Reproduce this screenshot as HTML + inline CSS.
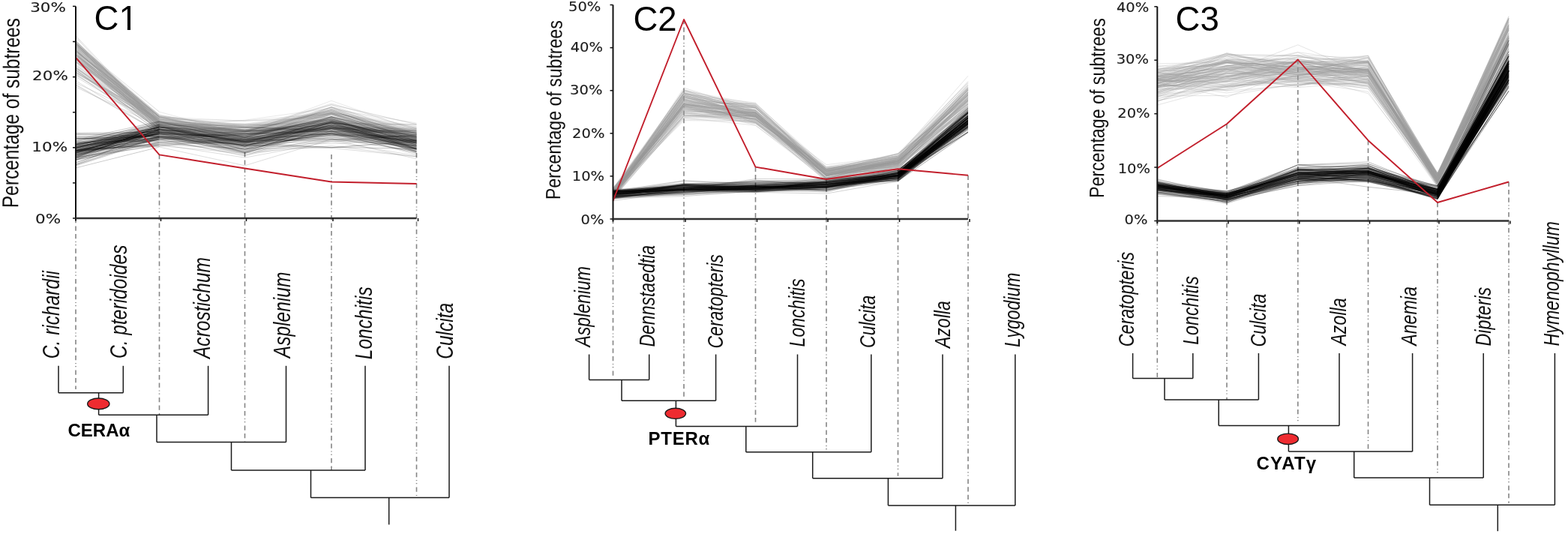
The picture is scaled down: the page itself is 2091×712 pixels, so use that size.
<!DOCTYPE html><html><head><meta charset="utf-8"><style>html,body{margin:0;padding:0;background:#fff;overflow:hidden;}svg{display:block;}</style></head><body><svg width="2091" height="712" viewBox="0 0 2091 712" font-family="Liberation Sans, Arial, sans-serif"><rect width="2091" height="712" fill="#fff"/><line x1="101" y1="291" x2="101" y2="519" stroke="#858585" stroke-width="1.6" stroke-dasharray="6.3 4.2 6.3 4.2 6.3 3.6 1.2 3 1.2 4.2"/><line x1="212.5" y1="206" x2="212.5" y2="553" stroke="#858585" stroke-width="1.6" stroke-dasharray="6.3 4.2 6.3 4.2 6.3 3.6 1.2 3 1.2 4.2"/><line x1="326.5" y1="203" x2="326.5" y2="589.5" stroke="#858585" stroke-width="1.6" stroke-dasharray="6.3 4.2 6.3 4.2 6.3 3.6 1.2 3 1.2 4.2"/><line x1="442" y1="206" x2="442" y2="627" stroke="#858585" stroke-width="1.6" stroke-dasharray="6.3 4.2 6.3 4.2 6.3 3.6 1.2 3 1.2 4.2"/><line x1="555.5" y1="204" x2="555.5" y2="661" stroke="#858585" stroke-width="1.6" stroke-dasharray="6.3 4.2 6.3 4.2 6.3 3.6 1.2 3 1.2 4.2"/><g fill="none" stroke="#999" stroke-width="0.8" stroke-opacity="0.27" stroke-linejoin="round"><polyline points="101.0,62.8 212.5,161.6" stroke-opacity="0.42"/><polyline points="212.5,161.6 326.5,175.7 442.0,143.4 555.5,184.3"/><polyline points="101.0,75.9 212.5,168.1" stroke-opacity="0.42"/><polyline points="212.5,168.1 326.5,189.7 442.0,180.2 555.5,182.5"/><polyline points="101.0,79.9 212.5,155.7" stroke-opacity="0.42"/><polyline points="212.5,155.7 326.5,180.6 442.0,152.8 555.5,183.1"/><polyline points="101.0,55.7 212.5,158.9" stroke-opacity="0.42"/><polyline points="212.5,158.9 326.5,170.4 442.0,159.0 555.5,180.9"/><polyline points="101.0,70.8 212.5,175.7" stroke-opacity="0.42"/><polyline points="212.5,175.7 326.5,183.3 442.0,169.3 555.5,190.5"/><polyline points="101.0,58.9 212.5,163.6" stroke-opacity="0.42"/><polyline points="212.5,163.6 326.5,180.8 442.0,160.0 555.5,187.0"/><polyline points="101.0,60.4 212.5,155.9" stroke-opacity="0.42"/><polyline points="212.5,155.9 326.5,161.3 442.0,156.0 555.5,175.0"/><polyline points="101.0,82.8 212.5,162.8" stroke-opacity="0.42"/><polyline points="212.5,162.8 326.5,178.4 442.0,166.1 555.5,190.6"/><polyline points="101.0,73.0 212.5,177.1" stroke-opacity="0.42"/><polyline points="212.5,177.1 326.5,186.8 442.0,159.6 555.5,185.8"/><polyline points="101.0,78.5 212.5,172.1" stroke-opacity="0.42"/><polyline points="212.5,172.1 326.5,177.3 442.0,161.9 555.5,180.7"/><polyline points="101.0,56.2 212.5,162.5" stroke-opacity="0.42"/><polyline points="212.5,162.5 326.5,175.3 442.0,139.9 555.5,181.0"/><polyline points="101.0,66.1 212.5,163.9" stroke-opacity="0.42"/><polyline points="212.5,163.9 326.5,172.0 442.0,147.5 555.5,184.4"/><polyline points="101.0,62.1 212.5,164.4" stroke-opacity="0.42"/><polyline points="212.5,164.4 326.5,175.5 442.0,160.0 555.5,176.0"/><polyline points="101.0,64.1 212.5,162.8" stroke-opacity="0.42"/><polyline points="212.5,162.8 326.5,168.4 442.0,171.6 555.5,187.1"/><polyline points="101.0,57.2 212.5,164.4" stroke-opacity="0.42"/><polyline points="212.5,164.4 326.5,177.7 442.0,170.4 555.5,175.2"/><polyline points="101.0,76.5 212.5,157.5" stroke-opacity="0.42"/><polyline points="212.5,157.5 326.5,180.7 442.0,151.4 555.5,185.0"/><polyline points="101.0,78.3 212.5,164.0" stroke-opacity="0.42"/><polyline points="212.5,164.0 326.5,174.8 442.0,164.6 555.5,184.6"/><polyline points="101.0,68.5 212.5,172.3" stroke-opacity="0.42"/><polyline points="212.5,172.3 326.5,185.0 442.0,166.4 555.5,194.6"/><polyline points="101.0,60.5 212.5,162.5" stroke-opacity="0.42"/><polyline points="212.5,162.5 326.5,174.5 442.0,155.2 555.5,177.9"/><polyline points="101.0,71.5 212.5,170.3" stroke-opacity="0.42"/><polyline points="212.5,170.3 326.5,166.4 442.0,168.3 555.5,186.3"/><polyline points="101.0,74.8 212.5,162.8" stroke-opacity="0.42"/><polyline points="212.5,162.8 326.5,183.1 442.0,157.8 555.5,178.1"/><polyline points="101.0,68.4 212.5,160.4" stroke-opacity="0.42"/><polyline points="212.5,160.4 326.5,178.9 442.0,145.1 555.5,189.4"/><polyline points="101.0,66.4 212.5,164.9" stroke-opacity="0.42"/><polyline points="212.5,164.9 326.5,173.1 442.0,177.8 555.5,190.2"/><polyline points="101.0,74.7 212.5,163.0" stroke-opacity="0.42"/><polyline points="212.5,163.0 326.5,188.3 442.0,159.6 555.5,190.4"/><polyline points="101.0,77.2 212.5,165.0" stroke-opacity="0.42"/><polyline points="212.5,165.0 326.5,180.3 442.0,170.5 555.5,183.4"/><polyline points="101.0,60.5 212.5,167.1" stroke-opacity="0.42"/><polyline points="212.5,167.1 326.5,175.4 442.0,150.2 555.5,167.9"/><polyline points="101.0,63.6 212.5,161.1" stroke-opacity="0.42"/><polyline points="212.5,161.1 326.5,184.3 442.0,146.2 555.5,181.2"/><polyline points="101.0,57.5 212.5,177.8" stroke-opacity="0.42"/><polyline points="212.5,177.8 326.5,176.8 442.0,156.7 555.5,195.2"/><polyline points="101.0,78.0 212.5,166.6" stroke-opacity="0.42"/><polyline points="212.5,166.6 326.5,182.4 442.0,159.5 555.5,180.0"/><polyline points="101.0,56.4 212.5,163.2" stroke-opacity="0.42"/><polyline points="212.5,163.2 326.5,186.8 442.0,152.3 555.5,191.2"/><polyline points="101.0,72.9 212.5,164.8" stroke-opacity="0.42"/><polyline points="212.5,164.8 326.5,187.3 442.0,169.0 555.5,186.1"/><polyline points="101.0,89.1 212.5,174.3" stroke-opacity="0.42"/><polyline points="212.5,174.3 326.5,199.2 442.0,180.9 555.5,184.1"/><polyline points="101.0,70.4 212.5,172.2" stroke-opacity="0.42"/><polyline points="212.5,172.2 326.5,183.8 442.0,178.4 555.5,198.1"/><polyline points="101.0,47.6 212.5,166.8" stroke-opacity="0.42"/><polyline points="212.5,166.8 326.5,181.2 442.0,143.0 555.5,193.9"/><polyline points="101.0,60.7 212.5,163.5" stroke-opacity="0.42"/><polyline points="212.5,163.5 326.5,173.3 442.0,160.3 555.5,180.0"/><polyline points="101.0,53.9 212.5,162.7" stroke-opacity="0.42"/><polyline points="212.5,162.7 326.5,173.9 442.0,146.6 555.5,175.0"/><polyline points="101.0,77.8 212.5,160.7" stroke-opacity="0.42"/><polyline points="212.5,160.7 326.5,174.6 442.0,164.9 555.5,174.6"/><polyline points="101.0,57.5 212.5,158.9" stroke-opacity="0.42"/><polyline points="212.5,158.9 326.5,170.6 442.0,148.7 555.5,178.7"/><polyline points="101.0,56.6 212.5,163.9" stroke-opacity="0.42"/><polyline points="212.5,163.9 326.5,173.6 442.0,152.8 555.5,184.0"/><polyline points="101.0,60.9 212.5,159.8" stroke-opacity="0.42"/><polyline points="212.5,159.8 326.5,169.9 442.0,150.5 555.5,186.7"/><polyline points="101.0,57.1 212.5,153.6" stroke-opacity="0.42"/><polyline points="212.5,153.6 326.5,184.1 442.0,151.2 555.5,181.8"/><polyline points="101.0,59.2 212.5,163.5" stroke-opacity="0.42"/><polyline points="212.5,163.5 326.5,178.0 442.0,167.5 555.5,186.0"/><polyline points="101.0,58.7 212.5,156.5" stroke-opacity="0.42"/><polyline points="212.5,156.5 326.5,170.1 442.0,139.8 555.5,165.6"/><polyline points="101.0,68.1 212.5,155.3" stroke-opacity="0.42"/><polyline points="212.5,155.3 326.5,190.1 442.0,161.7 555.5,178.6"/><polyline points="101.0,66.5 212.5,164.1" stroke-opacity="0.42"/><polyline points="212.5,164.1 326.5,180.7 442.0,179.1 555.5,187.5"/><polyline points="101.0,72.2 212.5,161.4" stroke-opacity="0.42"/><polyline points="212.5,161.4 326.5,182.3 442.0,152.3 555.5,191.4"/><polyline points="101.0,54.8 212.5,161.4" stroke-opacity="0.42"/><polyline points="212.5,161.4 326.5,168.7 442.0,166.5 555.5,186.7"/><polyline points="101.0,58.7 212.5,155.1" stroke-opacity="0.42"/><polyline points="212.5,155.1 326.5,184.1 442.0,143.2 555.5,170.7"/><polyline points="101.0,64.0 212.5,156.7" stroke-opacity="0.42"/><polyline points="212.5,156.7 326.5,178.4 442.0,152.1 555.5,176.2"/><polyline points="101.0,75.9 212.5,162.2" stroke-opacity="0.42"/><polyline points="212.5,162.2 326.5,175.9 442.0,164.1 555.5,182.0"/><polyline points="101.0,67.6 212.5,156.4" stroke-opacity="0.42"/><polyline points="212.5,156.4 326.5,166.5 442.0,151.3 555.5,172.8"/><polyline points="101.0,80.1 212.5,161.9" stroke-opacity="0.42"/><polyline points="212.5,161.9 326.5,173.7 442.0,148.9 555.5,187.1"/><polyline points="101.0,68.7 212.5,153.4" stroke-opacity="0.42"/><polyline points="212.5,153.4 326.5,174.0 442.0,157.4 555.5,185.3"/><polyline points="101.0,66.1 212.5,168.9" stroke-opacity="0.42"/><polyline points="212.5,168.9 326.5,178.9 442.0,142.6 555.5,175.8"/><polyline points="101.0,68.1 212.5,155.2" stroke-opacity="0.42"/><polyline points="212.5,155.2 326.5,168.7 442.0,160.3 555.5,184.2"/><polyline points="101.0,73.9 212.5,163.4" stroke-opacity="0.42"/><polyline points="212.5,163.4 326.5,174.1 442.0,170.1 555.5,191.2"/><polyline points="101.0,79.6 212.5,168.9" stroke-opacity="0.42"/><polyline points="212.5,168.9 326.5,189.2 442.0,171.2 555.5,179.8"/><polyline points="101.0,64.4 212.5,163.8" stroke-opacity="0.42"/><polyline points="212.5,163.8 326.5,180.3 442.0,155.5 555.5,180.2"/><polyline points="101.0,62.7 212.5,155.5" stroke-opacity="0.42"/><polyline points="212.5,155.5 326.5,169.1 442.0,159.6 555.5,184.1"/><polyline points="101.0,78.3 212.5,164.9" stroke-opacity="0.42"/><polyline points="212.5,164.9 326.5,177.4 442.0,149.7 555.5,176.4"/><polyline points="101.0,58.4 212.5,173.9" stroke-opacity="0.42"/><polyline points="212.5,173.9 326.5,188.4 442.0,161.2 555.5,198.2"/><polyline points="101.0,59.2 212.5,159.6" stroke-opacity="0.42"/><polyline points="212.5,159.6 326.5,171.3 442.0,149.6 555.5,196.5"/><polyline points="101.0,65.8 212.5,165.9" stroke-opacity="0.42"/><polyline points="212.5,165.9 326.5,182.3 442.0,152.5 555.5,176.6"/><polyline points="101.0,62.3 212.5,153.2" stroke-opacity="0.42"/><polyline points="212.5,153.2 326.5,173.1 442.0,145.5 555.5,164.0"/><polyline points="101.0,73.6 212.5,156.3" stroke-opacity="0.42"/><polyline points="212.5,156.3 326.5,177.4 442.0,134.3 555.5,174.2"/><polyline points="101.0,57.8 212.5,170.2" stroke-opacity="0.42"/><polyline points="212.5,170.2 326.5,179.0 442.0,158.3 555.5,196.5"/><polyline points="101.0,72.0 212.5,158.2" stroke-opacity="0.42"/><polyline points="212.5,158.2 326.5,177.9 442.0,163.3 555.5,187.6"/><polyline points="101.0,49.5 212.5,169.8" stroke-opacity="0.42"/><polyline points="212.5,169.8 326.5,173.1 442.0,167.4 555.5,177.1"/><polyline points="101.0,66.1 212.5,160.8" stroke-opacity="0.42"/><polyline points="212.5,160.8 326.5,190.6 442.0,142.3 555.5,178.0"/><polyline points="101.0,72.4 212.5,163.7" stroke-opacity="0.42"/><polyline points="212.5,163.7 326.5,181.7 442.0,168.7 555.5,181.4"/><polyline points="101.0,63.9 212.5,163.8" stroke-opacity="0.42"/><polyline points="212.5,163.8 326.5,165.2 442.0,170.6 555.5,178.6"/><polyline points="101.0,61.6 212.5,154.7" stroke-opacity="0.42"/><polyline points="212.5,154.7 326.5,168.3 442.0,152.1 555.5,183.4"/><polyline points="101.0,68.5 212.5,163.5" stroke-opacity="0.42"/><polyline points="212.5,163.5 326.5,185.7 442.0,147.6 555.5,185.7"/><polyline points="101.0,85.0 212.5,165.1" stroke-opacity="0.42"/><polyline points="212.5,165.1 326.5,174.0 442.0,159.8 555.5,196.4"/><polyline points="101.0,77.1 212.5,162.3" stroke-opacity="0.42"/><polyline points="212.5,162.3 326.5,190.4 442.0,176.9 555.5,198.9"/><polyline points="101.0,87.1 212.5,163.5" stroke-opacity="0.42"/><polyline points="212.5,163.5 326.5,201.0 442.0,151.9 555.5,194.5"/><polyline points="101.0,79.4 212.5,162.5" stroke-opacity="0.42"/><polyline points="212.5,162.5 326.5,183.4 442.0,155.5 555.5,189.0"/><polyline points="101.0,73.0 212.5,157.4" stroke-opacity="0.42"/><polyline points="212.5,157.4 326.5,174.6 442.0,142.6 555.5,185.0"/><polyline points="101.0,69.1 212.5,155.7" stroke-opacity="0.42"/><polyline points="212.5,155.7 326.5,176.2 442.0,148.8 555.5,177.9"/><polyline points="101.0,57.3 212.5,165.4" stroke-opacity="0.42"/><polyline points="212.5,165.4 326.5,170.5 442.0,167.0 555.5,166.1"/><polyline points="101.0,70.2 212.5,164.2" stroke-opacity="0.42"/><polyline points="212.5,164.2 326.5,161.1 442.0,156.4 555.5,181.6"/><polyline points="101.0,65.4 212.5,159.0" stroke-opacity="0.42"/><polyline points="212.5,159.0 326.5,180.5 442.0,163.8 555.5,190.3"/><polyline points="101.0,60.2 212.5,164.9" stroke-opacity="0.42"/><polyline points="212.5,164.9 326.5,167.2 442.0,151.3 555.5,178.1"/><polyline points="101.0,67.8 212.5,171.3" stroke-opacity="0.42"/><polyline points="212.5,171.3 326.5,182.2 442.0,165.2 555.5,180.1"/><polyline points="101.0,58.3 212.5,155.5" stroke-opacity="0.42"/><polyline points="212.5,155.5 326.5,187.0 442.0,163.3 555.5,183.3"/><polyline points="101.0,57.3 212.5,160.2" stroke-opacity="0.42"/><polyline points="212.5,160.2 326.5,173.1 442.0,151.5 555.5,185.5"/><polyline points="101.0,91.6 212.5,167.6" stroke-opacity="0.42"/><polyline points="212.5,167.6 326.5,188.6 442.0,171.5 555.5,187.5"/><polyline points="101.0,78.5 212.5,167.6" stroke-opacity="0.42"/><polyline points="212.5,167.6 326.5,189.8 442.0,163.0 555.5,188.5"/><polyline points="101.0,81.8 212.5,167.9" stroke-opacity="0.42"/><polyline points="212.5,167.9 326.5,175.3 442.0,186.5 555.5,192.8"/><polyline points="101.0,66.3 212.5,169.0" stroke-opacity="0.42"/><polyline points="212.5,169.0 326.5,188.7 442.0,167.7 555.5,196.3"/><polyline points="101.0,67.8 212.5,154.8" stroke-opacity="0.42"/><polyline points="212.5,154.8 326.5,166.4 442.0,149.0 555.5,178.7"/><polyline points="101.0,66.9 212.5,166.6" stroke-opacity="0.42"/><polyline points="212.5,166.6 326.5,201.3 442.0,166.4 555.5,183.0"/><polyline points="101.0,81.7 212.5,163.7" stroke-opacity="0.42"/><polyline points="212.5,163.7 326.5,195.2 442.0,156.1 555.5,193.4"/><polyline points="101.0,69.9 212.5,167.5" stroke-opacity="0.42"/><polyline points="212.5,167.5 326.5,183.7 442.0,181.6 555.5,188.6"/><polyline points="101.0,70.5 212.5,167.1" stroke-opacity="0.42"/><polyline points="212.5,167.1 326.5,183.6 442.0,150.9 555.5,170.4"/><polyline points="101.0,73.0 212.5,168.7" stroke-opacity="0.42"/><polyline points="212.5,168.7 326.5,179.1 442.0,164.0 555.5,196.7"/><polyline points="101.0,57.6 212.5,149.2" stroke-opacity="0.42"/><polyline points="212.5,149.2 326.5,179.6 442.0,150.5 555.5,169.7"/><polyline points="101.0,58.8 212.5,156.8" stroke-opacity="0.42"/><polyline points="212.5,156.8 326.5,167.9 442.0,158.8 555.5,168.7"/><polyline points="101.0,82.1 212.5,162.0" stroke-opacity="0.42"/><polyline points="212.5,162.0 326.5,188.5 442.0,174.9 555.5,178.0"/><polyline points="101.0,54.6 212.5,162.3" stroke-opacity="0.42"/><polyline points="212.5,162.3 326.5,188.2 442.0,143.0 555.5,180.2"/><polyline points="101.0,77.1 212.5,174.8" stroke-opacity="0.42"/><polyline points="212.5,174.8 326.5,196.9 442.0,170.2 555.5,201.8"/><polyline points="101.0,68.4 212.5,162.1" stroke-opacity="0.42"/><polyline points="212.5,162.1 326.5,189.5 442.0,161.6 555.5,180.1"/><polyline points="101.0,66.6 212.5,162.3" stroke-opacity="0.42"/><polyline points="212.5,162.3 326.5,165.2 442.0,162.2 555.5,172.9"/><polyline points="101.0,54.9 212.5,157.1" stroke-opacity="0.42"/><polyline points="212.5,157.1 326.5,175.2 442.0,137.9 555.5,172.0"/><polyline points="101.0,72.3 212.5,171.3" stroke-opacity="0.42"/><polyline points="212.5,171.3 326.5,188.4 442.0,152.4 555.5,182.9"/></g><g fill="none" stroke="#999" stroke-width="0.8" stroke-opacity="0.27" stroke-linejoin="round"><polyline points="101.0,74.0 212.5,167.1" stroke-opacity="0.42"/><polyline points="212.5,167.1 326.5,183.1 442.0,154.8 555.5,184.6"/><polyline points="101.0,113.7 212.5,176.6" stroke-opacity="0.42"/><polyline points="212.5,176.6 326.5,196.2 442.0,165.4 555.5,200.4"/><polyline points="101.0,82.5 212.5,159.0" stroke-opacity="0.42"/><polyline points="212.5,159.0 326.5,160.7 442.0,151.2 555.5,188.6"/><polyline points="101.0,83.3 212.5,165.3" stroke-opacity="0.42"/><polyline points="212.5,165.3 326.5,186.3 442.0,161.5 555.5,184.4"/><polyline points="101.0,90.6 212.5,164.3" stroke-opacity="0.42"/><polyline points="212.5,164.3 326.5,184.0 442.0,165.5 555.5,183.6"/><polyline points="101.0,73.7 212.5,155.8" stroke-opacity="0.42"/><polyline points="212.5,155.8 326.5,175.3 442.0,145.8 555.5,186.5"/><polyline points="101.0,99.4 212.5,171.5" stroke-opacity="0.42"/><polyline points="212.5,171.5 326.5,185.8 442.0,152.2 555.5,202.9"/><polyline points="101.0,116.0 212.5,168.7" stroke-opacity="0.42"/><polyline points="212.5,168.7 326.5,176.6 442.0,158.7 555.5,186.3"/><polyline points="101.0,107.5 212.5,177.2" stroke-opacity="0.42"/><polyline points="212.5,177.2 326.5,202.2 442.0,171.5 555.5,192.5"/><polyline points="101.0,90.1 212.5,160.1" stroke-opacity="0.42"/><polyline points="212.5,160.1 326.5,183.7 442.0,162.4 555.5,181.7"/><polyline points="101.0,93.8 212.5,170.4" stroke-opacity="0.42"/><polyline points="212.5,170.4 326.5,178.2 442.0,159.4 555.5,178.6"/><polyline points="101.0,91.0 212.5,164.7" stroke-opacity="0.42"/><polyline points="212.5,164.7 326.5,176.4 442.0,163.7 555.5,193.1"/><polyline points="101.0,100.5 212.5,161.7" stroke-opacity="0.42"/><polyline points="212.5,161.7 326.5,174.2 442.0,139.1 555.5,166.0"/><polyline points="101.0,90.7 212.5,173.5" stroke-opacity="0.42"/><polyline points="212.5,173.5 326.5,186.3 442.0,168.4 555.5,198.1"/><polyline points="101.0,68.4 212.5,158.4" stroke-opacity="0.42"/><polyline points="212.5,158.4 326.5,188.6 442.0,177.5 555.5,185.0"/><polyline points="101.0,79.6 212.5,167.1" stroke-opacity="0.42"/><polyline points="212.5,167.1 326.5,165.3 442.0,147.8 555.5,183.5"/><polyline points="101.0,93.5 212.5,172.5" stroke-opacity="0.42"/><polyline points="212.5,172.5 326.5,173.6 442.0,153.1 555.5,183.8"/><polyline points="101.0,92.7 212.5,176.8" stroke-opacity="0.42"/><polyline points="212.5,176.8 326.5,178.0 442.0,167.5 555.5,182.6"/><polyline points="101.0,93.4 212.5,166.3" stroke-opacity="0.42"/><polyline points="212.5,166.3 326.5,195.4 442.0,161.2 555.5,198.5"/><polyline points="101.0,86.8 212.5,169.7" stroke-opacity="0.42"/><polyline points="212.5,169.7 326.5,160.2 442.0,144.2 555.5,182.6"/><polyline points="101.0,102.4 212.5,167.2" stroke-opacity="0.42"/><polyline points="212.5,167.2 326.5,174.2 442.0,171.5 555.5,191.1"/><polyline points="101.0,88.8 212.5,171.6" stroke-opacity="0.42"/><polyline points="212.5,171.6 326.5,176.7 442.0,145.5 555.5,177.8"/><polyline points="101.0,95.5 212.5,170.0" stroke-opacity="0.42"/><polyline points="212.5,170.0 326.5,173.1 442.0,154.4 555.5,190.8"/><polyline points="101.0,110.5 212.5,162.6" stroke-opacity="0.42"/><polyline points="212.5,162.6 326.5,179.0 442.0,174.6 555.5,183.4"/><polyline points="101.0,96.5 212.5,164.5" stroke-opacity="0.42"/><polyline points="212.5,164.5 326.5,194.5 442.0,163.8 555.5,184.2"/><polyline points="101.0,96.0 212.5,158.7" stroke-opacity="0.42"/><polyline points="212.5,158.7 326.5,174.7 442.0,150.6 555.5,171.5"/><polyline points="101.0,112.6 212.5,176.4" stroke-opacity="0.42"/><polyline points="212.5,176.4 326.5,174.4 442.0,171.2 555.5,195.2"/><polyline points="101.0,98.1 212.5,159.4" stroke-opacity="0.42"/><polyline points="212.5,159.4 326.5,170.9 442.0,151.7 555.5,178.5"/><polyline points="101.0,96.6 212.5,158.0" stroke-opacity="0.42"/><polyline points="212.5,158.0 326.5,173.0 442.0,150.6 555.5,195.3"/><polyline points="101.0,93.3 212.5,172.5" stroke-opacity="0.42"/><polyline points="212.5,172.5 326.5,168.4 442.0,149.7 555.5,179.4"/><polyline points="101.0,96.8 212.5,159.8" stroke-opacity="0.42"/><polyline points="212.5,159.8 326.5,182.4 442.0,158.2 555.5,179.6"/><polyline points="101.0,98.3 212.5,175.6" stroke-opacity="0.42"/><polyline points="212.5,175.6 326.5,177.6 442.0,161.8 555.5,198.4"/></g><g fill="none" stroke="#000" stroke-width="0.8" stroke-opacity="0.17" stroke-linejoin="round"><polyline points="101.0,200.9 212.5,176.3" stroke-opacity="0.25"/><polyline points="212.5,176.3 326.5,194.1 442.0,181.0 555.5,194.2"/><polyline points="101.0,192.5 212.5,171.6" stroke-opacity="0.25"/><polyline points="212.5,171.6 326.5,183.1 442.0,178.5 555.5,174.0"/><polyline points="101.0,201.5 212.5,183.8" stroke-opacity="0.25"/><polyline points="212.5,183.8 326.5,177.9 442.0,172.7 555.5,196.6"/><polyline points="101.0,207.4 212.5,180.8" stroke-opacity="0.25"/><polyline points="212.5,180.8 326.5,192.3 442.0,160.9 555.5,187.2"/><polyline points="101.0,198.2 212.5,194.3" stroke-opacity="0.25"/><polyline points="212.5,194.3 326.5,183.4 442.0,172.8 555.5,190.4"/><polyline points="101.0,209.6 212.5,168.5" stroke-opacity="0.25"/><polyline points="212.5,168.5 326.5,195.4 442.0,162.9 555.5,183.6"/><polyline points="101.0,206.2 212.5,175.6" stroke-opacity="0.25"/><polyline points="212.5,175.6 326.5,186.3 442.0,179.1 555.5,182.5"/><polyline points="101.0,213.0 212.5,192.5" stroke-opacity="0.25"/><polyline points="212.5,192.5 326.5,210.2 442.0,188.6 555.5,207.7"/><polyline points="101.0,202.1 212.5,171.6" stroke-opacity="0.25"/><polyline points="212.5,171.6 326.5,204.1 442.0,171.5 555.5,192.7"/><polyline points="101.0,197.0 212.5,172.7" stroke-opacity="0.25"/><polyline points="212.5,172.7 326.5,178.9 442.0,158.2 555.5,193.3"/><polyline points="101.0,201.3 212.5,175.6" stroke-opacity="0.25"/><polyline points="212.5,175.6 326.5,182.4 442.0,164.3 555.5,193.0"/><polyline points="101.0,196.2 212.5,172.6" stroke-opacity="0.25"/><polyline points="212.5,172.6 326.5,185.1 442.0,163.0 555.5,199.1"/><polyline points="101.0,211.5 212.5,172.6" stroke-opacity="0.25"/><polyline points="212.5,172.6 326.5,185.2 442.0,189.2 555.5,180.0"/><polyline points="101.0,193.4 212.5,172.9" stroke-opacity="0.25"/><polyline points="212.5,172.9 326.5,187.9 442.0,174.5 555.5,193.8"/><polyline points="101.0,201.0 212.5,166.7" stroke-opacity="0.25"/><polyline points="212.5,166.7 326.5,191.4 442.0,155.4 555.5,198.1"/><polyline points="101.0,197.5 212.5,169.5" stroke-opacity="0.25"/><polyline points="212.5,169.5 326.5,169.7 442.0,175.9 555.5,176.1"/><polyline points="101.0,210.4 212.5,190.3" stroke-opacity="0.25"/><polyline points="212.5,190.3 326.5,185.7 442.0,178.8 555.5,202.7"/><polyline points="101.0,194.0 212.5,166.1" stroke-opacity="0.25"/><polyline points="212.5,166.1 326.5,183.0 442.0,160.0 555.5,203.9"/><polyline points="101.0,198.5 212.5,176.9" stroke-opacity="0.25"/><polyline points="212.5,176.9 326.5,183.8 442.0,169.2 555.5,176.8"/><polyline points="101.0,191.2 212.5,161.9" stroke-opacity="0.25"/><polyline points="212.5,161.9 326.5,190.2 442.0,164.5 555.5,165.7"/><polyline points="101.0,206.9 212.5,173.7" stroke-opacity="0.25"/><polyline points="212.5,173.7 326.5,190.2 442.0,171.4 555.5,189.1"/><polyline points="101.0,193.1 212.5,169.2" stroke-opacity="0.25"/><polyline points="212.5,169.2 326.5,190.6 442.0,161.4 555.5,171.2"/><polyline points="101.0,201.5 212.5,177.9" stroke-opacity="0.25"/><polyline points="212.5,177.9 326.5,189.4 442.0,183.3 555.5,190.5"/><polyline points="101.0,203.9 212.5,174.4" stroke-opacity="0.25"/><polyline points="212.5,174.4 326.5,175.9 442.0,146.5 555.5,188.0"/><polyline points="101.0,196.2 212.5,172.7" stroke-opacity="0.25"/><polyline points="212.5,172.7 326.5,189.1 442.0,181.0 555.5,196.9"/><polyline points="101.0,192.0 212.5,176.2" stroke-opacity="0.25"/><polyline points="212.5,176.2 326.5,170.6 442.0,168.2 555.5,173.7"/><polyline points="101.0,202.1 212.5,174.2" stroke-opacity="0.25"/><polyline points="212.5,174.2 326.5,169.4 442.0,174.6 555.5,189.2"/><polyline points="101.0,200.7 212.5,192.7" stroke-opacity="0.25"/><polyline points="212.5,192.7 326.5,198.4 442.0,197.0 555.5,189.5"/><polyline points="101.0,197.4 212.5,167.2" stroke-opacity="0.25"/><polyline points="212.5,167.2 326.5,191.4 442.0,170.1 555.5,171.3"/><polyline points="101.0,203.2 212.5,177.8" stroke-opacity="0.25"/><polyline points="212.5,177.8 326.5,179.2 442.0,169.0 555.5,187.8"/><polyline points="101.0,200.6 212.5,169.6" stroke-opacity="0.25"/><polyline points="212.5,169.6 326.5,194.4 442.0,163.6 555.5,195.5"/><polyline points="101.0,188.9 212.5,165.2" stroke-opacity="0.25"/><polyline points="212.5,165.2 326.5,175.3 442.0,147.8 555.5,181.5"/><polyline points="101.0,199.3 212.5,182.5" stroke-opacity="0.25"/><polyline points="212.5,182.5 326.5,195.0 442.0,171.3 555.5,186.6"/><polyline points="101.0,204.7 212.5,178.3" stroke-opacity="0.25"/><polyline points="212.5,178.3 326.5,180.1 442.0,172.4 555.5,178.3"/><polyline points="101.0,201.0 212.5,178.1" stroke-opacity="0.25"/><polyline points="212.5,178.1 326.5,185.7 442.0,164.2 555.5,201.4"/><polyline points="101.0,195.2 212.5,176.6" stroke-opacity="0.25"/><polyline points="212.5,176.6 326.5,176.3 442.0,160.7 555.5,189.6"/><polyline points="101.0,200.2 212.5,174.3" stroke-opacity="0.25"/><polyline points="212.5,174.3 326.5,188.4 442.0,191.7 555.5,186.5"/><polyline points="101.0,208.0 212.5,170.0" stroke-opacity="0.25"/><polyline points="212.5,170.0 326.5,184.5 442.0,167.0 555.5,190.1"/><polyline points="101.0,210.2 212.5,176.6" stroke-opacity="0.25"/><polyline points="212.5,176.6 326.5,191.5 442.0,166.6 555.5,198.9"/><polyline points="101.0,187.5 212.5,170.4" stroke-opacity="0.25"/><polyline points="212.5,170.4 326.5,175.1 442.0,162.5 555.5,182.0"/><polyline points="101.0,195.7 212.5,175.3" stroke-opacity="0.25"/><polyline points="212.5,175.3 326.5,191.5 442.0,160.9 555.5,188.4"/><polyline points="101.0,213.0 212.5,184.7" stroke-opacity="0.25"/><polyline points="212.5,184.7 326.5,189.1 442.0,168.7 555.5,193.7"/><polyline points="101.0,210.7 212.5,167.9" stroke-opacity="0.25"/><polyline points="212.5,167.9 326.5,199.6 442.0,175.2 555.5,190.5"/><polyline points="101.0,193.8 212.5,171.4" stroke-opacity="0.25"/><polyline points="212.5,171.4 326.5,188.5 442.0,170.6 555.5,176.8"/><polyline points="101.0,203.3 212.5,186.2" stroke-opacity="0.25"/><polyline points="212.5,186.2 326.5,178.6 442.0,174.5 555.5,188.4"/><polyline points="101.0,198.2 212.5,177.8" stroke-opacity="0.25"/><polyline points="212.5,177.8 326.5,183.9 442.0,156.1 555.5,182.9"/><polyline points="101.0,184.5 212.5,181.5" stroke-opacity="0.25"/><polyline points="212.5,181.5 326.5,175.8 442.0,166.1 555.5,183.8"/><polyline points="101.0,193.9 212.5,185.6" stroke-opacity="0.25"/><polyline points="212.5,185.6 326.5,207.2 442.0,186.2 555.5,194.4"/><polyline points="101.0,201.5 212.5,192.4" stroke-opacity="0.25"/><polyline points="212.5,192.4 326.5,189.3 442.0,161.7 555.5,193.5"/><polyline points="101.0,199.7 212.5,172.3" stroke-opacity="0.25"/><polyline points="212.5,172.3 326.5,178.8 442.0,164.2 555.5,177.3"/><polyline points="101.0,209.7 212.5,194.3" stroke-opacity="0.25"/><polyline points="212.5,194.3 326.5,204.6 442.0,167.8 555.5,202.0"/><polyline points="101.0,204.4 212.5,172.3" stroke-opacity="0.25"/><polyline points="212.5,172.3 326.5,186.1 442.0,170.6 555.5,191.0"/><polyline points="101.0,202.4 212.5,174.4" stroke-opacity="0.25"/><polyline points="212.5,174.4 326.5,174.0 442.0,175.7 555.5,200.0"/><polyline points="101.0,200.0 212.5,180.2" stroke-opacity="0.25"/><polyline points="212.5,180.2 326.5,199.3 442.0,177.0 555.5,195.1"/><polyline points="101.0,213.5 212.5,171.6" stroke-opacity="0.25"/><polyline points="212.5,171.6 326.5,190.4 442.0,174.8 555.5,206.4"/><polyline points="101.0,216.6 212.5,181.9" stroke-opacity="0.25"/><polyline points="212.5,181.9 326.5,203.5 442.0,177.2 555.5,198.8"/><polyline points="101.0,206.0 212.5,170.3" stroke-opacity="0.25"/><polyline points="212.5,170.3 326.5,172.6 442.0,171.0 555.5,192.0"/><polyline points="101.0,203.2 212.5,167.0" stroke-opacity="0.25"/><polyline points="212.5,167.0 326.5,167.1 442.0,164.1 555.5,173.2"/><polyline points="101.0,204.9 212.5,183.2" stroke-opacity="0.25"/><polyline points="212.5,183.2 326.5,187.1 442.0,169.1 555.5,202.5"/><polyline points="101.0,202.1 212.5,190.5" stroke-opacity="0.25"/><polyline points="212.5,190.5 326.5,198.4 442.0,175.0 555.5,196.9"/><polyline points="101.0,220.0 212.5,183.5" stroke-opacity="0.25"/><polyline points="212.5,183.5 326.5,196.1 442.0,184.3 555.5,201.7"/><polyline points="101.0,209.2 212.5,183.3" stroke-opacity="0.25"/><polyline points="212.5,183.3 326.5,188.4 442.0,164.1 555.5,196.1"/><polyline points="101.0,202.2 212.5,176.9" stroke-opacity="0.25"/><polyline points="212.5,176.9 326.5,202.2 442.0,165.4 555.5,197.8"/><polyline points="101.0,208.6 212.5,172.6" stroke-opacity="0.25"/><polyline points="212.5,172.6 326.5,192.5 442.0,182.9 555.5,197.8"/><polyline points="101.0,205.8 212.5,185.9" stroke-opacity="0.25"/><polyline points="212.5,185.9 326.5,207.9 442.0,169.5 555.5,191.4"/><polyline points="101.0,195.9 212.5,179.0" stroke-opacity="0.25"/><polyline points="212.5,179.0 326.5,182.8 442.0,171.1 555.5,180.3"/><polyline points="101.0,192.6 212.5,172.9" stroke-opacity="0.25"/><polyline points="212.5,172.9 326.5,182.2 442.0,150.2 555.5,187.9"/><polyline points="101.0,200.1 212.5,177.9" stroke-opacity="0.25"/><polyline points="212.5,177.9 326.5,195.1 442.0,158.2 555.5,199.0"/><polyline points="101.0,202.4 212.5,173.6" stroke-opacity="0.25"/><polyline points="212.5,173.6 326.5,195.0 442.0,180.1 555.5,190.3"/><polyline points="101.0,185.5 212.5,182.6" stroke-opacity="0.25"/><polyline points="212.5,182.6 326.5,177.6 442.0,162.7 555.5,181.8"/><polyline points="101.0,210.1 212.5,168.3" stroke-opacity="0.25"/><polyline points="212.5,168.3 326.5,192.7 442.0,179.7 555.5,186.2"/><polyline points="101.0,208.7 212.5,172.5" stroke-opacity="0.25"/><polyline points="212.5,172.5 326.5,195.7 442.0,178.1 555.5,199.2"/><polyline points="101.0,197.8 212.5,168.6" stroke-opacity="0.25"/><polyline points="212.5,168.6 326.5,198.7 442.0,155.5 555.5,188.6"/><polyline points="101.0,223.9 212.5,196.0" stroke-opacity="0.25"/><polyline points="212.5,196.0 326.5,220.8 442.0,185.7 555.5,211.8"/><polyline points="101.0,197.1 212.5,182.8" stroke-opacity="0.25"/><polyline points="212.5,182.8 326.5,204.1 442.0,161.9 555.5,188.7"/><polyline points="101.0,197.2 212.5,176.3" stroke-opacity="0.25"/><polyline points="212.5,176.3 326.5,187.6 442.0,184.4 555.5,202.0"/><polyline points="101.0,219.3 212.5,182.3" stroke-opacity="0.25"/><polyline points="212.5,182.3 326.5,193.9 442.0,197.4 555.5,208.8"/><polyline points="101.0,208.6 212.5,169.3" stroke-opacity="0.25"/><polyline points="212.5,169.3 326.5,192.1 442.0,163.6 555.5,187.3"/><polyline points="101.0,195.3 212.5,179.3" stroke-opacity="0.25"/><polyline points="212.5,179.3 326.5,180.8 442.0,160.8 555.5,190.2"/><polyline points="101.0,192.2 212.5,166.6" stroke-opacity="0.25"/><polyline points="212.5,166.6 326.5,185.3 442.0,168.5 555.5,186.3"/><polyline points="101.0,211.3 212.5,185.0" stroke-opacity="0.25"/><polyline points="212.5,185.0 326.5,186.8 442.0,177.6 555.5,192.6"/><polyline points="101.0,190.9 212.5,183.7" stroke-opacity="0.25"/><polyline points="212.5,183.7 326.5,192.6 442.0,175.5 555.5,173.1"/><polyline points="101.0,213.8 212.5,189.3" stroke-opacity="0.25"/><polyline points="212.5,189.3 326.5,203.7 442.0,171.5 555.5,198.3"/><polyline points="101.0,192.8 212.5,177.1" stroke-opacity="0.25"/><polyline points="212.5,177.1 326.5,196.5 442.0,164.1 555.5,198.3"/><polyline points="101.0,204.3 212.5,167.4" stroke-opacity="0.25"/><polyline points="212.5,167.4 326.5,192.5 442.0,170.3 555.5,189.6"/><polyline points="101.0,219.3 212.5,173.4" stroke-opacity="0.25"/><polyline points="212.5,173.4 326.5,202.8 442.0,166.0 555.5,190.1"/><polyline points="101.0,183.9 212.5,187.1" stroke-opacity="0.25"/><polyline points="212.5,187.1 326.5,187.7 442.0,169.0 555.5,191.4"/><polyline points="101.0,212.8 212.5,184.8" stroke-opacity="0.25"/><polyline points="212.5,184.8 326.5,200.4 442.0,173.4 555.5,187.3"/><polyline points="101.0,194.7 212.5,169.3" stroke-opacity="0.25"/><polyline points="212.5,169.3 326.5,181.4 442.0,158.6 555.5,191.2"/><polyline points="101.0,192.2 212.5,169.4" stroke-opacity="0.25"/><polyline points="212.5,169.4 326.5,178.7 442.0,174.7 555.5,201.4"/><polyline points="101.0,204.1 212.5,182.0" stroke-opacity="0.25"/><polyline points="212.5,182.0 326.5,188.3 442.0,168.7 555.5,188.0"/><polyline points="101.0,195.4 212.5,178.4" stroke-opacity="0.25"/><polyline points="212.5,178.4 326.5,194.1 442.0,166.5 555.5,179.8"/><polyline points="101.0,191.4 212.5,178.5" stroke-opacity="0.25"/><polyline points="212.5,178.5 326.5,202.9 442.0,187.9 555.5,193.7"/><polyline points="101.0,197.8 212.5,163.3" stroke-opacity="0.25"/><polyline points="212.5,163.3 326.5,169.6 442.0,173.3 555.5,188.5"/><polyline points="101.0,204.1 212.5,169.0" stroke-opacity="0.25"/><polyline points="212.5,169.0 326.5,185.0 442.0,178.6 555.5,181.9"/><polyline points="101.0,192.8 212.5,183.8" stroke-opacity="0.25"/><polyline points="212.5,183.8 326.5,196.6 442.0,178.1 555.5,204.3"/><polyline points="101.0,211.9 212.5,181.0" stroke-opacity="0.25"/><polyline points="212.5,181.0 326.5,201.8 442.0,185.5 555.5,190.9"/><polyline points="101.0,200.3 212.5,191.6" stroke-opacity="0.25"/><polyline points="212.5,191.6 326.5,190.7 442.0,173.5 555.5,194.4"/><polyline points="101.0,196.1 212.5,162.6" stroke-opacity="0.25"/><polyline points="212.5,162.6 326.5,182.4 442.0,155.9 555.5,182.4"/><polyline points="101.0,186.6 212.5,161.6" stroke-opacity="0.25"/><polyline points="212.5,161.6 326.5,182.9 442.0,156.5 555.5,177.7"/><polyline points="101.0,200.5 212.5,188.2" stroke-opacity="0.25"/><polyline points="212.5,188.2 326.5,188.5 442.0,178.0 555.5,195.0"/><polyline points="101.0,189.9 212.5,187.6" stroke-opacity="0.25"/><polyline points="212.5,187.6 326.5,193.4 442.0,167.0 555.5,200.0"/><polyline points="101.0,199.4 212.5,165.7" stroke-opacity="0.25"/><polyline points="212.5,165.7 326.5,190.5 442.0,156.8 555.5,201.6"/><polyline points="101.0,200.4 212.5,185.5" stroke-opacity="0.25"/><polyline points="212.5,185.5 326.5,174.3 442.0,179.8 555.5,182.6"/><polyline points="101.0,190.5 212.5,170.0" stroke-opacity="0.25"/><polyline points="212.5,170.0 326.5,189.6 442.0,180.4 555.5,186.9"/><polyline points="101.0,202.9 212.5,182.5" stroke-opacity="0.25"/><polyline points="212.5,182.5 326.5,180.6 442.0,159.2 555.5,199.0"/><polyline points="101.0,204.1 212.5,177.9" stroke-opacity="0.25"/><polyline points="212.5,177.9 326.5,204.0 442.0,194.4 555.5,208.9"/><polyline points="101.0,207.9 212.5,183.4" stroke-opacity="0.25"/><polyline points="212.5,183.4 326.5,202.0 442.0,164.8 555.5,203.0"/><polyline points="101.0,197.7 212.5,174.4" stroke-opacity="0.25"/><polyline points="212.5,174.4 326.5,194.1 442.0,169.9 555.5,197.5"/><polyline points="101.0,206.8 212.5,186.1" stroke-opacity="0.25"/><polyline points="212.5,186.1 326.5,178.7 442.0,177.6 555.5,204.3"/><polyline points="101.0,194.0 212.5,172.5" stroke-opacity="0.25"/><polyline points="212.5,172.5 326.5,187.7 442.0,169.8 555.5,179.5"/><polyline points="101.0,206.1 212.5,181.9" stroke-opacity="0.25"/><polyline points="212.5,181.9 326.5,200.0 442.0,162.7 555.5,199.8"/><polyline points="101.0,200.6 212.5,194.7" stroke-opacity="0.25"/><polyline points="212.5,194.7 326.5,186.6 442.0,185.5 555.5,187.4"/><polyline points="101.0,221.0 212.5,184.8" stroke-opacity="0.25"/><polyline points="212.5,184.8 326.5,192.7 442.0,179.1 555.5,189.2"/><polyline points="101.0,196.9 212.5,178.6" stroke-opacity="0.25"/><polyline points="212.5,178.6 326.5,198.7 442.0,162.4 555.5,182.7"/><polyline points="101.0,197.4 212.5,178.7" stroke-opacity="0.25"/><polyline points="212.5,178.7 326.5,180.8 442.0,157.3 555.5,198.4"/><polyline points="101.0,206.0 212.5,179.2" stroke-opacity="0.25"/><polyline points="212.5,179.2 326.5,206.0 442.0,182.5 555.5,198.1"/><polyline points="101.0,188.2 212.5,165.3" stroke-opacity="0.25"/><polyline points="212.5,165.3 326.5,174.1 442.0,172.4 555.5,185.5"/><polyline points="101.0,217.2 212.5,175.4" stroke-opacity="0.25"/><polyline points="212.5,175.4 326.5,194.7 442.0,171.6 555.5,198.7"/><polyline points="101.0,203.3 212.5,170.1" stroke-opacity="0.25"/><polyline points="212.5,170.1 326.5,175.8 442.0,168.6 555.5,191.5"/></g><g fill="none" stroke="#000" stroke-width="0.8" stroke-opacity="0.3" stroke-linejoin="round"><polyline points="101.0,185.0 212.5,180.0 326.5,193.1 442.0,196.3 555.5,198.3"/><polyline points="101.0,182.9 212.5,182.3 326.5,193.8 442.0,175.4 555.5,195.3"/><polyline points="101.0,181.9 212.5,179.0 326.5,188.4 442.0,186.7 555.5,180.0"/><polyline points="101.0,178.6 212.5,181.9 326.5,185.7 442.0,163.1 555.5,184.7"/><polyline points="101.0,177.5 212.5,176.1 326.5,187.4 442.0,167.2 555.5,185.2"/><polyline points="101.0,184.4 212.5,189.6 326.5,189.9 442.0,196.7 555.5,187.7"/><polyline points="101.0,179.6 212.5,176.2 326.5,186.0 442.0,171.2 555.5,175.0"/><polyline points="101.0,189.1 212.5,180.8 326.5,198.3 442.0,176.6 555.5,188.3"/></g><polyline points="101,76.7 212.5,206.4 326.5,224.5 442,242.5 555.5,245" fill="none" stroke="#c21f2c" stroke-width="1.9" stroke-linejoin="round"/><line x1="101" y1="8.4" x2="101" y2="294.5" stroke="#111" stroke-width="2"/><line x1="101" y1="291" x2="555.5" y2="291" stroke="#333" stroke-width="2.3"/><line x1="97" y1="291" x2="101" y2="291" stroke="#111" stroke-width="1.5"/><line x1="97" y1="243.9" x2="101" y2="243.9" stroke="#111" stroke-width="1.5"/><line x1="97" y1="196.8" x2="101" y2="196.8" stroke="#111" stroke-width="1.5"/><line x1="97" y1="149.7" x2="101" y2="149.7" stroke="#111" stroke-width="1.5"/><line x1="97" y1="102.6" x2="101" y2="102.6" stroke="#111" stroke-width="1.5"/><line x1="97" y1="55.5" x2="101" y2="55.5" stroke="#111" stroke-width="1.5"/><line x1="97" y1="8.4" x2="101" y2="8.4" stroke="#111" stroke-width="1.5"/><text transform="translate(81.1,297.74) scale(1.235,1)" text-anchor="end" font-family="DejaVu Sans" font-size="17.4" fill="#1a1a1a" stroke="#1a1a1a" stroke-width="0.12">0%</text><text transform="translate(90.1,202.24) scale(1.235,1)" text-anchor="end" font-family="DejaVu Sans" font-size="17.4" fill="#1a1a1a" stroke="#1a1a1a" stroke-width="0.12">10%</text><text transform="translate(90.8,106.64) scale(1.235,1)" text-anchor="end" font-family="DejaVu Sans" font-size="17.4" fill="#1a1a1a" stroke="#1a1a1a" stroke-width="0.12">20%</text><text transform="translate(87.9,15.84) scale(1.235,1)" text-anchor="end" font-family="DejaVu Sans" font-size="17.4" fill="#1a1a1a" stroke="#1a1a1a" stroke-width="0.12">30%</text><line x1="214.5" y1="291" x2="214.5" y2="295" stroke="#111" stroke-width="1.5"/><line x1="328.5" y1="291" x2="328.5" y2="295" stroke="#111" stroke-width="1.5"/><line x1="444" y1="291" x2="444" y2="295" stroke="#111" stroke-width="1.5"/><line x1="557.5" y1="291" x2="557.5" y2="295" stroke="#111" stroke-width="1.5"/><text x="125.6" y="40.4" font-size="45.5" fill="#000">C1</text><rect x="160.5" y="35.2" width="9.4" height="5.6" fill="#fff"/><rect x="174" y="35.2" width="8.5" height="5.6" fill="#fff"/><text transform="translate(24.2,277.2) rotate(-89.55) scale(0.803,1)" font-size="30.5" fill="#111">Percentage of subtrees</text><line x1="78" y1="487.8" x2="78" y2="523.7" stroke="#1a1a1a" stroke-width="1.5"/><text transform="translate(79.3,478.2) rotate(-90) scale(0.805,1)" font-size="30.5" font-style="italic" fill="#111">C. richardii</text><line x1="164.3" y1="487.8" x2="164.3" y2="523.7" stroke="#1a1a1a" stroke-width="1.5"/><text transform="translate(169,478) rotate(-90) scale(0.805,1)" font-size="30.5" font-style="italic" fill="#111">C. pteridoides</text><line x1="277.6" y1="487.8" x2="277.6" y2="553.2" stroke="#1a1a1a" stroke-width="1.5"/><text transform="translate(280,478) rotate(-90) scale(0.805,1)" font-size="30.5" font-style="italic" fill="#111">Acrostichum</text><line x1="381.5" y1="487.8" x2="381.5" y2="589.5" stroke="#1a1a1a" stroke-width="1.5"/><text transform="translate(387.4,477.2) rotate(-90) scale(0.805,1)" font-size="30.5" font-style="italic" fill="#111">Asplenium</text><line x1="487" y1="487.8" x2="487" y2="627" stroke="#1a1a1a" stroke-width="1.5"/><text transform="translate(495.9,479.2) rotate(-90) scale(0.805,1)" font-size="30.5" font-style="italic" fill="#111">Lonchitis</text><line x1="599" y1="487.8" x2="599" y2="663.6" stroke="#1a1a1a" stroke-width="1.5"/><text transform="translate(603.7,478.8) rotate(-90) scale(0.805,1)" font-size="30.5" font-style="italic" fill="#111">Culcita</text><line x1="78" y1="523.7" x2="164.3" y2="523.7" stroke="#1a1a1a" stroke-width="1.5"/><line x1="131.6" y1="523.7" x2="131.6" y2="553.2" stroke="#1a1a1a" stroke-width="1.5"/><line x1="131.6" y1="553.2" x2="277.6" y2="553.2" stroke="#1a1a1a" stroke-width="1.5"/><line x1="209" y1="553.2" x2="209" y2="589.5" stroke="#1a1a1a" stroke-width="1.5"/><line x1="209" y1="589.5" x2="381.5" y2="589.5" stroke="#1a1a1a" stroke-width="1.5"/><line x1="308.5" y1="589.5" x2="308.5" y2="627" stroke="#1a1a1a" stroke-width="1.5"/><line x1="308.5" y1="627" x2="487" y2="627" stroke="#1a1a1a" stroke-width="1.5"/><line x1="414.5" y1="627" x2="414.5" y2="663.6" stroke="#1a1a1a" stroke-width="1.5"/><line x1="414.5" y1="663.6" x2="599" y2="663.6" stroke="#1a1a1a" stroke-width="1.5"/><line x1="518.7" y1="663.6" x2="518.7" y2="699.5" stroke="#1a1a1a" stroke-width="1.5"/><ellipse cx="131.3" cy="538.4" rx="14.6" ry="7.4" fill="#ee2b30" stroke="#1a1a1a" stroke-width="1.4"/><text x="90.5" y="582.2" font-size="24" font-weight="bold" letter-spacing="0" fill="#000">CERAα</text><line x1="817.5" y1="292" x2="817.5" y2="502" stroke="#858585" stroke-width="1.6" stroke-dasharray="6.3 4.2 6.3 4.2 6.3 3.6 1.2 3 1.2 4.2"/><line x1="912" y1="26" x2="912" y2="533" stroke="#858585" stroke-width="1.6" stroke-dasharray="6.3 4.2 6.3 4.2 6.3 3.6 1.2 3 1.2 4.2"/><line x1="1007.5" y1="222.6" x2="1007.5" y2="562.7" stroke="#858585" stroke-width="1.6" stroke-dasharray="6.3 4.2 6.3 4.2 6.3 3.6 1.2 3 1.2 4.2"/><line x1="1102" y1="239" x2="1102" y2="601" stroke="#858585" stroke-width="1.6" stroke-dasharray="6.3 4.2 6.3 4.2 6.3 3.6 1.2 3 1.2 4.2"/><line x1="1197.5" y1="225.2" x2="1197.5" y2="634.8" stroke="#858585" stroke-width="1.6" stroke-dasharray="6.3 4.2 6.3 4.2 6.3 3.6 1.2 3 1.2 4.2"/><line x1="1291" y1="233.8" x2="1291" y2="672" stroke="#858585" stroke-width="1.6" stroke-dasharray="6.3 4.2 6.3 4.2 6.3 3.6 1.2 3 1.2 4.2"/><g fill="none" stroke="#999" stroke-width="0.8" stroke-opacity="0.32" stroke-linejoin="round"><polyline points="817.5,261.3 912.0,153.8 1007.5,159.3 1102.0,232.8 1197.5,225.7 1291.0,128.3"/><polyline points="817.5,255.6 912.0,141.7 1007.5,156.4 1102.0,231.0 1197.5,212.1 1291.0,138.2"/><polyline points="817.5,259.3 912.0,137.1 1007.5,157.0 1102.0,234.4 1197.5,214.3 1291.0,139.1"/><polyline points="817.5,260.2 912.0,155.0 1007.5,155.7 1102.0,236.8 1197.5,220.5 1291.0,144.4"/><polyline points="817.5,264.0 912.0,138.7 1007.5,150.7 1102.0,228.4 1197.5,222.8 1291.0,130.8"/><polyline points="817.5,255.9 912.0,138.8 1007.5,159.1 1102.0,228.6 1197.5,218.2 1291.0,140.7"/><polyline points="817.5,257.9 912.0,142.1 1007.5,166.9 1102.0,237.5 1197.5,215.5 1291.0,138.9"/><polyline points="817.5,263.1 912.0,157.1 1007.5,167.2 1102.0,239.7 1197.5,226.8 1291.0,143.5"/><polyline points="817.5,260.2 912.0,154.7 1007.5,152.9 1102.0,242.0 1197.5,221.9 1291.0,151.0"/><polyline points="817.5,257.9 912.0,140.0 1007.5,150.1 1102.0,233.8 1197.5,213.8 1291.0,120.4"/><polyline points="817.5,257.8 912.0,134.1 1007.5,141.2 1102.0,225.1 1197.5,217.0 1291.0,119.1"/><polyline points="817.5,255.4 912.0,120.6 1007.5,149.6 1102.0,234.9 1197.5,208.2 1291.0,137.8"/><polyline points="817.5,259.4 912.0,130.2 1007.5,144.1 1102.0,224.0 1197.5,210.3 1291.0,116.0"/><polyline points="817.5,260.0 912.0,134.6 1007.5,161.8 1102.0,233.3 1197.5,220.7 1291.0,141.5"/><polyline points="817.5,253.2 912.0,124.0 1007.5,155.8 1102.0,232.8 1197.5,206.8 1291.0,113.5"/><polyline points="817.5,251.8 912.0,124.3 1007.5,156.2 1102.0,227.3 1197.5,219.2 1291.0,122.3"/><polyline points="817.5,259.0 912.0,141.4 1007.5,156.1 1102.0,234.0 1197.5,218.3 1291.0,118.0"/><polyline points="817.5,250.5 912.0,143.4 1007.5,155.4 1102.0,225.7 1197.5,211.0 1291.0,133.3"/><polyline points="817.5,256.6 912.0,143.3 1007.5,148.1 1102.0,232.4 1197.5,220.5 1291.0,133.2"/><polyline points="817.5,256.5 912.0,137.6 1007.5,151.2 1102.0,232.8 1197.5,219.8 1291.0,119.5"/><polyline points="817.5,260.1 912.0,146.0 1007.5,150.1 1102.0,239.8 1197.5,217.0 1291.0,130.2"/><polyline points="817.5,264.4 912.0,155.2 1007.5,154.6 1102.0,237.4 1197.5,220.2 1291.0,130.4"/><polyline points="817.5,264.6 912.0,151.1 1007.5,153.9 1102.0,231.4 1197.5,218.2 1291.0,150.1"/><polyline points="817.5,254.3 912.0,119.7 1007.5,150.5 1102.0,224.3 1197.5,209.0 1291.0,116.7"/><polyline points="817.5,259.4 912.0,124.9 1007.5,143.3 1102.0,230.7 1197.5,217.9 1291.0,123.0"/><polyline points="817.5,264.0 912.0,145.6 1007.5,153.0 1102.0,237.2 1197.5,214.0 1291.0,139.4"/><polyline points="817.5,261.3 912.0,157.1 1007.5,158.5 1102.0,230.6 1197.5,225.9 1291.0,129.9"/><polyline points="817.5,263.2 912.0,141.7 1007.5,158.8 1102.0,232.1 1197.5,225.5 1291.0,134.2"/><polyline points="817.5,259.1 912.0,122.3 1007.5,147.3 1102.0,228.3 1197.5,205.2 1291.0,114.1"/><polyline points="817.5,253.9 912.0,146.6 1007.5,158.1 1102.0,228.8 1197.5,210.3 1291.0,123.5"/><polyline points="817.5,258.6 912.0,143.8 1007.5,158.6 1102.0,230.7 1197.5,215.7 1291.0,126.7"/><polyline points="817.5,259.4 912.0,126.0 1007.5,155.5 1102.0,233.4 1197.5,213.8 1291.0,137.8"/><polyline points="817.5,258.5 912.0,134.6 1007.5,147.2 1102.0,234.8 1197.5,210.2 1291.0,121.9"/><polyline points="817.5,258.1 912.0,129.8 1007.5,151.3 1102.0,234.9 1197.5,211.2 1291.0,126.2"/><polyline points="817.5,253.9 912.0,146.8 1007.5,155.1 1102.0,226.7 1197.5,214.3 1291.0,137.7"/><polyline points="817.5,253.6 912.0,135.7 1007.5,154.4 1102.0,225.5 1197.5,209.5 1291.0,133.2"/><polyline points="817.5,256.3 912.0,156.5 1007.5,155.6 1102.0,237.1 1197.5,214.7 1291.0,135.1"/><polyline points="817.5,256.1 912.0,133.9 1007.5,153.1 1102.0,232.3 1197.5,214.6 1291.0,133.0"/><polyline points="817.5,259.4 912.0,152.7 1007.5,164.8 1102.0,232.8 1197.5,216.4 1291.0,127.3"/><polyline points="817.5,253.6 912.0,139.5 1007.5,148.1 1102.0,238.8 1197.5,212.4 1291.0,128.0"/><polyline points="817.5,256.7 912.0,147.7 1007.5,150.2 1102.0,233.2 1197.5,223.0 1291.0,136.6"/><polyline points="817.5,255.8 912.0,123.9 1007.5,139.6 1102.0,229.6 1197.5,205.2 1291.0,130.5"/><polyline points="817.5,254.9 912.0,154.5 1007.5,149.5 1102.0,229.2 1197.5,218.8 1291.0,133.5"/><polyline points="817.5,257.1 912.0,138.8 1007.5,154.6 1102.0,224.4 1197.5,216.0 1291.0,134.5"/><polyline points="817.5,252.9 912.0,145.8 1007.5,151.0 1102.0,234.8 1197.5,209.8 1291.0,120.3"/><polyline points="817.5,260.5 912.0,152.6 1007.5,155.0 1102.0,239.9 1197.5,214.0 1291.0,135.1"/><polyline points="817.5,258.0 912.0,127.9 1007.5,139.8 1102.0,228.6 1197.5,215.4 1291.0,133.1"/><polyline points="817.5,257.9 912.0,148.7 1007.5,151.9 1102.0,231.1 1197.5,216.5 1291.0,141.7"/><polyline points="817.5,253.1 912.0,125.8 1007.5,158.0 1102.0,227.6 1197.5,221.1 1291.0,143.0"/><polyline points="817.5,260.9 912.0,133.1 1007.5,153.6 1102.0,236.8 1197.5,216.4 1291.0,144.0"/><polyline points="817.5,262.6 912.0,128.6 1007.5,151.8 1102.0,237.5 1197.5,224.4 1291.0,143.4"/><polyline points="817.5,255.5 912.0,127.5 1007.5,145.9 1102.0,230.2 1197.5,209.4 1291.0,125.8"/><polyline points="817.5,262.7 912.0,142.2 1007.5,155.7 1102.0,230.7 1197.5,221.8 1291.0,149.6"/><polyline points="817.5,257.9 912.0,137.7 1007.5,151.2 1102.0,228.8 1197.5,221.0 1291.0,130.6"/><polyline points="817.5,258.1 912.0,130.9 1007.5,142.7 1102.0,230.1 1197.5,204.8 1291.0,109.7"/><polyline points="817.5,257.5 912.0,119.3 1007.5,143.8 1102.0,226.8 1197.5,208.1 1291.0,123.7"/><polyline points="817.5,254.5 912.0,124.8 1007.5,147.6 1102.0,223.6 1197.5,213.9 1291.0,115.3"/><polyline points="817.5,254.9 912.0,144.1 1007.5,162.3 1102.0,229.2 1197.5,223.6 1291.0,140.4"/><polyline points="817.5,257.2 912.0,133.2 1007.5,155.0 1102.0,232.4 1197.5,214.1 1291.0,138.2"/><polyline points="817.5,257.4 912.0,138.2 1007.5,138.0 1102.0,233.2 1197.5,213.1 1291.0,126.6"/><polyline points="817.5,259.5 912.0,129.6 1007.5,157.1 1102.0,228.3 1197.5,214.3 1291.0,133.4"/><polyline points="817.5,261.5 912.0,137.7 1007.5,160.5 1102.0,224.8 1197.5,214.0 1291.0,121.6"/><polyline points="817.5,252.5 912.0,130.5 1007.5,141.0 1102.0,230.6 1197.5,215.5 1291.0,118.5"/><polyline points="817.5,265.1 912.0,140.2 1007.5,152.3 1102.0,238.1 1197.5,224.7 1291.0,130.5"/><polyline points="817.5,260.5 912.0,128.5 1007.5,156.7 1102.0,231.8 1197.5,216.3 1291.0,123.3"/><polyline points="817.5,258.4 912.0,141.4 1007.5,150.4 1102.0,231.7 1197.5,215.1 1291.0,120.2"/><polyline points="817.5,264.9 912.0,144.5 1007.5,163.5 1102.0,236.2 1197.5,216.1 1291.0,142.3"/><polyline points="817.5,257.9 912.0,136.5 1007.5,138.1 1102.0,222.3 1197.5,208.1 1291.0,125.9"/><polyline points="817.5,257.5 912.0,127.3 1007.5,143.9 1102.0,226.5 1197.5,218.2 1291.0,134.7"/><polyline points="817.5,259.5 912.0,147.7 1007.5,153.3 1102.0,226.9 1197.5,216.7 1291.0,123.9"/><polyline points="817.5,260.1 912.0,128.2 1007.5,162.4 1102.0,232.4 1197.5,218.5 1291.0,122.9"/><polyline points="817.5,255.5 912.0,140.5 1007.5,158.3 1102.0,233.0 1197.5,219.8 1291.0,133.6"/><polyline points="817.5,251.9 912.0,137.9 1007.5,153.8 1102.0,227.0 1197.5,212.6 1291.0,129.0"/><polyline points="817.5,257.4 912.0,149.9 1007.5,154.3 1102.0,232.0 1197.5,222.2 1291.0,141.3"/><polyline points="817.5,251.1 912.0,138.7 1007.5,149.8 1102.0,225.3 1197.5,205.1 1291.0,131.7"/><polyline points="817.5,259.6 912.0,154.2 1007.5,157.8 1102.0,234.7 1197.5,218.9 1291.0,146.3"/><polyline points="817.5,251.8 912.0,148.1 1007.5,151.2 1102.0,236.1 1197.5,215.6 1291.0,125.4"/><polyline points="817.5,257.5 912.0,159.2 1007.5,160.9 1102.0,233.6 1197.5,215.3 1291.0,132.4"/><polyline points="817.5,257.8 912.0,135.5 1007.5,163.1 1102.0,232.7 1197.5,221.4 1291.0,143.8"/><polyline points="817.5,258.9 912.0,144.9 1007.5,152.4 1102.0,238.2 1197.5,224.6 1291.0,139.6"/><polyline points="817.5,258.4 912.0,129.2 1007.5,154.2 1102.0,222.8 1197.5,207.8 1291.0,126.7"/><polyline points="817.5,257.9 912.0,143.2 1007.5,159.3 1102.0,234.4 1197.5,219.8 1291.0,135.6"/><polyline points="817.5,258.1 912.0,141.5 1007.5,164.2 1102.0,226.8 1197.5,213.1 1291.0,126.3"/><polyline points="817.5,262.6 912.0,132.9 1007.5,149.1 1102.0,228.0 1197.5,215.6 1291.0,132.6"/><polyline points="817.5,251.8 912.0,132.5 1007.5,152.5 1102.0,225.8 1197.5,210.9 1291.0,123.3"/><polyline points="817.5,263.6 912.0,131.6 1007.5,159.8 1102.0,230.0 1197.5,218.6 1291.0,144.6"/><polyline points="817.5,258.4 912.0,135.1 1007.5,150.0 1102.0,230.7 1197.5,213.8 1291.0,144.8"/><polyline points="817.5,253.9 912.0,139.1 1007.5,142.3 1102.0,231.3 1197.5,218.6 1291.0,136.6"/><polyline points="817.5,260.4 912.0,138.3 1007.5,160.3 1102.0,228.7 1197.5,215.5 1291.0,127.9"/><polyline points="817.5,253.4 912.0,125.4 1007.5,137.1 1102.0,225.9 1197.5,204.5 1291.0,131.9"/><polyline points="817.5,250.8 912.0,125.8 1007.5,142.2 1102.0,222.7 1197.5,217.0 1291.0,117.8"/><polyline points="817.5,255.4 912.0,127.0 1007.5,159.2 1102.0,227.5 1197.5,220.3 1291.0,120.3"/><polyline points="817.5,256.5 912.0,142.3 1007.5,146.5 1102.0,228.1 1197.5,218.1 1291.0,124.8"/><polyline points="817.5,259.6 912.0,140.7 1007.5,141.4 1102.0,227.3 1197.5,211.9 1291.0,117.3"/><polyline points="817.5,258.6 912.0,149.3 1007.5,150.7 1102.0,239.7 1197.5,217.4 1291.0,134.0"/><polyline points="817.5,252.5 912.0,128.1 1007.5,148.4 1102.0,234.4 1197.5,214.7 1291.0,120.2"/><polyline points="817.5,265.6 912.0,154.1 1007.5,153.7 1102.0,231.4 1197.5,226.2 1291.0,128.9"/><polyline points="817.5,257.2 912.0,135.5 1007.5,149.5 1102.0,233.8 1197.5,225.3 1291.0,142.4"/><polyline points="817.5,260.0 912.0,133.8 1007.5,147.4 1102.0,233.1 1197.5,224.3 1291.0,132.4"/><polyline points="817.5,258.5 912.0,141.1 1007.5,162.4 1102.0,237.3 1197.5,212.3 1291.0,126.0"/><polyline points="817.5,256.5 912.0,160.6 1007.5,161.8 1102.0,241.9 1197.5,214.2 1291.0,142.3"/><polyline points="817.5,256.4 912.0,139.0 1007.5,161.1 1102.0,237.3 1197.5,223.1 1291.0,139.0"/><polyline points="817.5,263.4 912.0,139.8 1007.5,150.4 1102.0,234.2 1197.5,217.5 1291.0,144.5"/><polyline points="817.5,258.9 912.0,124.3 1007.5,149.2 1102.0,228.8 1197.5,211.7 1291.0,111.7"/><polyline points="817.5,260.3 912.0,148.9 1007.5,163.5 1102.0,241.3 1197.5,222.0 1291.0,148.6"/><polyline points="817.5,260.0 912.0,140.4 1007.5,153.0 1102.0,227.5 1197.5,209.5 1291.0,118.0"/><polyline points="817.5,260.0 912.0,127.1 1007.5,154.6 1102.0,228.8 1197.5,207.7 1291.0,116.2"/><polyline points="817.5,256.5 912.0,125.8 1007.5,156.3 1102.0,230.6 1197.5,215.7 1291.0,135.5"/><polyline points="817.5,258.7 912.0,150.4 1007.5,164.5 1102.0,238.5 1197.5,212.6 1291.0,133.2"/><polyline points="817.5,256.2 912.0,132.8 1007.5,164.1 1102.0,238.6 1197.5,213.6 1291.0,125.6"/><polyline points="817.5,252.5 912.0,136.8 1007.5,143.7 1102.0,228.2 1197.5,209.8 1291.0,120.3"/><polyline points="817.5,262.0 912.0,145.2 1007.5,158.9 1102.0,225.1 1197.5,217.2 1291.0,123.6"/><polyline points="817.5,251.6 912.0,140.8 1007.5,143.8 1102.0,229.1 1197.5,206.7 1291.0,110.4"/><polyline points="817.5,258.4 912.0,143.4 1007.5,154.7 1102.0,240.1 1197.5,219.9 1291.0,150.2"/><polyline points="817.5,256.3 912.0,120.7 1007.5,153.6 1102.0,225.7 1197.5,205.4 1291.0,131.6"/><polyline points="817.5,258.0 912.0,137.9 1007.5,144.2 1102.0,234.7 1197.5,212.2 1291.0,128.7"/><polyline points="817.5,257.5 912.0,140.5 1007.5,160.3 1102.0,234.1 1197.5,211.0 1291.0,116.9"/><polyline points="817.5,262.9 912.0,138.5 1007.5,152.2 1102.0,229.3 1197.5,222.7 1291.0,126.9"/><polyline points="817.5,260.2 912.0,129.5 1007.5,143.9 1102.0,235.2 1197.5,211.5 1291.0,122.6"/><polyline points="817.5,253.9 912.0,131.9 1007.5,148.0 1102.0,234.7 1197.5,211.8 1291.0,124.6"/><polyline points="817.5,256.8 912.0,150.9 1007.5,154.9 1102.0,238.4 1197.5,213.9 1291.0,127.2"/><polyline points="817.5,252.5 912.0,120.8 1007.5,138.7 1102.0,226.0 1197.5,217.5 1291.0,119.1"/><polyline points="817.5,255.3 912.0,139.9 1007.5,146.2 1102.0,233.6 1197.5,217.1 1291.0,124.3"/><polyline points="817.5,259.6 912.0,151.1 1007.5,163.4 1102.0,234.7 1197.5,222.8 1291.0,135.2"/><polyline points="817.5,250.9 912.0,121.0 1007.5,142.5 1102.0,225.3 1197.5,217.8 1291.0,125.8"/></g><g fill="none" stroke="#999" stroke-width="0.8" stroke-opacity="0.32" stroke-linejoin="round"><polyline points="817.5,255.4 912.0,124.3 1007.5,140.7 1102.0,227.8 1197.5,219.1 1291.0,113.3"/><polyline points="817.5,257.5 912.0,122.9 1007.5,151.6 1102.0,226.8 1197.5,210.9 1291.0,118.4"/><polyline points="817.5,258.7 912.0,117.0 1007.5,147.6 1102.0,219.7 1197.5,208.0 1291.0,101.2"/><polyline points="817.5,254.7 912.0,132.3 1007.5,140.9 1102.0,231.5 1197.5,212.3 1291.0,119.5"/><polyline points="817.5,258.6 912.0,131.4 1007.5,152.7 1102.0,231.3 1197.5,218.9 1291.0,125.8"/><polyline points="817.5,253.1 912.0,123.4 1007.5,150.6 1102.0,226.3 1197.5,209.9 1291.0,108.3"/></g><g fill="none" stroke="#000" stroke-width="0.8" stroke-opacity="0.22" stroke-linejoin="round"><polyline points="817.5,255.6 912.0,250.4 1007.5,251.8 1102.0,243.6 1197.5,233.8"/><polyline points="1197.5,233.8 1291.0,156.5" stroke-opacity="0.4"/><polyline points="817.5,260.8 912.0,256.6 1007.5,248.9 1102.0,252.4 1197.5,233.8"/><polyline points="1197.5,233.8 1291.0,169.0" stroke-opacity="0.4"/><polyline points="817.5,255.6 912.0,251.6 1007.5,256.3 1102.0,251.4 1197.5,233.2"/><polyline points="1197.5,233.2 1291.0,152.0" stroke-opacity="0.4"/><polyline points="817.5,254.2 912.0,244.0 1007.5,247.8 1102.0,249.3 1197.5,230.3"/><polyline points="1197.5,230.3 1291.0,158.2" stroke-opacity="0.4"/><polyline points="817.5,257.6 912.0,246.7 1007.5,249.0 1102.0,245.4 1197.5,235.1"/><polyline points="1197.5,235.1 1291.0,149.6" stroke-opacity="0.4"/><polyline points="817.5,257.6 912.0,253.4 1007.5,253.7 1102.0,247.9 1197.5,236.9"/><polyline points="1197.5,236.9 1291.0,156.9" stroke-opacity="0.4"/><polyline points="817.5,258.9 912.0,250.9 1007.5,246.8 1102.0,243.9 1197.5,234.3"/><polyline points="1197.5,234.3 1291.0,157.8" stroke-opacity="0.4"/><polyline points="817.5,263.3 912.0,252.9 1007.5,256.3 1102.0,258.1 1197.5,241.4"/><polyline points="1197.5,241.4 1291.0,176.7" stroke-opacity="0.4"/><polyline points="817.5,262.0 912.0,249.8 1007.5,243.6 1102.0,242.1 1197.5,226.1"/><polyline points="1197.5,226.1 1291.0,161.0" stroke-opacity="0.4"/><polyline points="817.5,256.2 912.0,251.9 1007.5,246.2 1102.0,244.0 1197.5,236.3"/><polyline points="1197.5,236.3 1291.0,164.3" stroke-opacity="0.4"/><polyline points="817.5,264.0 912.0,256.4 1007.5,251.0 1102.0,245.9 1197.5,234.7"/><polyline points="1197.5,234.7 1291.0,171.0" stroke-opacity="0.4"/><polyline points="817.5,255.2 912.0,252.3 1007.5,249.2 1102.0,245.1 1197.5,236.1"/><polyline points="1197.5,236.1 1291.0,161.8" stroke-opacity="0.4"/><polyline points="817.5,259.1 912.0,256.5 1007.5,247.3 1102.0,255.7 1197.5,232.0"/><polyline points="1197.5,232.0 1291.0,161.8" stroke-opacity="0.4"/><polyline points="817.5,254.4 912.0,251.3 1007.5,252.8 1102.0,248.2 1197.5,230.2"/><polyline points="1197.5,230.2 1291.0,169.0" stroke-opacity="0.4"/><polyline points="817.5,258.3 912.0,248.9 1007.5,252.0 1102.0,245.0 1197.5,231.5"/><polyline points="1197.5,231.5 1291.0,162.9" stroke-opacity="0.4"/><polyline points="817.5,264.5 912.0,252.8 1007.5,248.7 1102.0,248.9 1197.5,231.6"/><polyline points="1197.5,231.6 1291.0,152.1" stroke-opacity="0.4"/><polyline points="817.5,260.9 912.0,255.0 1007.5,250.2 1102.0,242.8 1197.5,229.0"/><polyline points="1197.5,229.0 1291.0,166.2" stroke-opacity="0.4"/><polyline points="817.5,254.6 912.0,254.0 1007.5,246.7 1102.0,245.3 1197.5,229.2"/><polyline points="1197.5,229.2 1291.0,154.8" stroke-opacity="0.4"/><polyline points="817.5,257.3 912.0,252.9 1007.5,250.1 1102.0,249.1 1197.5,237.0"/><polyline points="1197.5,237.0 1291.0,154.0" stroke-opacity="0.4"/><polyline points="817.5,255.0 912.0,249.8 1007.5,251.3 1102.0,243.6 1197.5,231.2"/><polyline points="1197.5,231.2 1291.0,157.9" stroke-opacity="0.4"/><polyline points="817.5,256.0 912.0,253.8 1007.5,254.2 1102.0,248.6 1197.5,240.5"/><polyline points="1197.5,240.5 1291.0,172.0" stroke-opacity="0.4"/><polyline points="817.5,259.9 912.0,246.5 1007.5,246.9 1102.0,245.6 1197.5,236.8"/><polyline points="1197.5,236.8 1291.0,173.2" stroke-opacity="0.4"/><polyline points="817.5,258.6 912.0,252.5 1007.5,250.8 1102.0,253.9 1197.5,235.7"/><polyline points="1197.5,235.7 1291.0,161.0" stroke-opacity="0.4"/><polyline points="817.5,262.9 912.0,254.7 1007.5,250.8 1102.0,249.5 1197.5,236.0"/><polyline points="1197.5,236.0 1291.0,167.9" stroke-opacity="0.4"/><polyline points="817.5,263.5 912.0,247.4 1007.5,249.4 1102.0,248.6 1197.5,236.8"/><polyline points="1197.5,236.8 1291.0,161.7" stroke-opacity="0.4"/><polyline points="817.5,259.9 912.0,247.7 1007.5,248.4 1102.0,243.4 1197.5,234.5"/><polyline points="1197.5,234.5 1291.0,164.7" stroke-opacity="0.4"/><polyline points="817.5,257.7 912.0,247.4 1007.5,251.5 1102.0,245.9 1197.5,235.9"/><polyline points="1197.5,235.9 1291.0,155.4" stroke-opacity="0.4"/><polyline points="817.5,263.5 912.0,246.6 1007.5,244.7 1102.0,244.7 1197.5,239.6"/><polyline points="1197.5,239.6 1291.0,163.5" stroke-opacity="0.4"/><polyline points="817.5,262.2 912.0,255.8 1007.5,246.2 1102.0,248.6 1197.5,234.9"/><polyline points="1197.5,234.9 1291.0,165.2" stroke-opacity="0.4"/><polyline points="817.5,256.8 912.0,253.1 1007.5,252.0 1102.0,252.6 1197.5,235.2"/><polyline points="1197.5,235.2 1291.0,175.8" stroke-opacity="0.4"/><polyline points="817.5,267.6 912.0,255.1 1007.5,253.2 1102.0,240.6 1197.5,238.2"/><polyline points="1197.5,238.2 1291.0,158.2" stroke-opacity="0.4"/><polyline points="817.5,255.6 912.0,245.4 1007.5,250.5 1102.0,245.7 1197.5,230.7"/><polyline points="1197.5,230.7 1291.0,150.5" stroke-opacity="0.4"/><polyline points="817.5,262.8 912.0,255.5 1007.5,252.5 1102.0,248.3 1197.5,237.5"/><polyline points="1197.5,237.5 1291.0,164.6" stroke-opacity="0.4"/><polyline points="817.5,258.2 912.0,251.3 1007.5,240.8 1102.0,247.9 1197.5,233.9"/><polyline points="1197.5,233.9 1291.0,165.9" stroke-opacity="0.4"/><polyline points="817.5,255.0 912.0,246.6 1007.5,251.1 1102.0,246.5 1197.5,230.9"/><polyline points="1197.5,230.9 1291.0,157.2" stroke-opacity="0.4"/><polyline points="817.5,256.5 912.0,248.6 1007.5,254.6 1102.0,250.9 1197.5,233.5"/><polyline points="1197.5,233.5 1291.0,160.6" stroke-opacity="0.4"/><polyline points="817.5,261.6 912.0,257.1 1007.5,248.8 1102.0,247.6 1197.5,228.0"/><polyline points="1197.5,228.0 1291.0,163.4" stroke-opacity="0.4"/><polyline points="817.5,253.9 912.0,248.9 1007.5,249.5 1102.0,243.3 1197.5,231.5"/><polyline points="1197.5,231.5 1291.0,166.2" stroke-opacity="0.4"/><polyline points="817.5,259.7 912.0,252.3 1007.5,253.3 1102.0,255.9 1197.5,233.9"/><polyline points="1197.5,233.9 1291.0,170.6" stroke-opacity="0.4"/><polyline points="817.5,255.8 912.0,249.6 1007.5,249.9 1102.0,246.7 1197.5,233.1"/><polyline points="1197.5,233.1 1291.0,165.6" stroke-opacity="0.4"/><polyline points="817.5,261.3 912.0,257.5 1007.5,249.7 1102.0,246.8 1197.5,239.4"/><polyline points="1197.5,239.4 1291.0,160.5" stroke-opacity="0.4"/><polyline points="817.5,261.1 912.0,254.4 1007.5,249.5 1102.0,248.0 1197.5,237.6"/><polyline points="1197.5,237.6 1291.0,156.3" stroke-opacity="0.4"/><polyline points="817.5,260.1 912.0,255.0 1007.5,252.0 1102.0,245.5 1197.5,233.4"/><polyline points="1197.5,233.4 1291.0,167.3" stroke-opacity="0.4"/><polyline points="817.5,262.2 912.0,254.1 1007.5,255.8 1102.0,250.0 1197.5,233.8"/><polyline points="1197.5,233.8 1291.0,165.0" stroke-opacity="0.4"/><polyline points="817.5,262.7 912.0,252.7 1007.5,249.5 1102.0,250.4 1197.5,239.6"/><polyline points="1197.5,239.6 1291.0,163.8" stroke-opacity="0.4"/><polyline points="817.5,254.7 912.0,251.4 1007.5,245.6 1102.0,240.4 1197.5,233.5"/><polyline points="1197.5,233.5 1291.0,150.2" stroke-opacity="0.4"/><polyline points="817.5,254.7 912.0,249.3 1007.5,248.5 1102.0,241.3 1197.5,231.4"/><polyline points="1197.5,231.4 1291.0,149.9" stroke-opacity="0.4"/><polyline points="817.5,256.0 912.0,249.8 1007.5,248.9 1102.0,253.1 1197.5,236.8"/><polyline points="1197.5,236.8 1291.0,161.7" stroke-opacity="0.4"/><polyline points="817.5,259.0 912.0,254.2 1007.5,251.5 1102.0,245.8 1197.5,240.9"/><polyline points="1197.5,240.9 1291.0,169.0" stroke-opacity="0.4"/><polyline points="817.5,256.7 912.0,246.0 1007.5,249.2 1102.0,248.4 1197.5,230.1"/><polyline points="1197.5,230.1 1291.0,154.5" stroke-opacity="0.4"/><polyline points="817.5,262.3 912.0,257.0 1007.5,255.8 1102.0,248.6 1197.5,240.5"/><polyline points="1197.5,240.5 1291.0,169.5" stroke-opacity="0.4"/><polyline points="817.5,263.3 912.0,257.4 1007.5,249.7 1102.0,250.6 1197.5,230.6"/><polyline points="1197.5,230.6 1291.0,160.1" stroke-opacity="0.4"/><polyline points="817.5,257.5 912.0,250.2 1007.5,250.4 1102.0,243.0 1197.5,229.3"/><polyline points="1197.5,229.3 1291.0,149.1" stroke-opacity="0.4"/><polyline points="817.5,259.2 912.0,250.6 1007.5,249.7 1102.0,250.2 1197.5,232.8"/><polyline points="1197.5,232.8 1291.0,164.1" stroke-opacity="0.4"/><polyline points="817.5,264.2 912.0,252.2 1007.5,252.1 1102.0,245.4 1197.5,236.8"/><polyline points="1197.5,236.8 1291.0,161.0" stroke-opacity="0.4"/><polyline points="817.5,260.5 912.0,251.5 1007.5,253.7 1102.0,245.2 1197.5,238.1"/><polyline points="1197.5,238.1 1291.0,162.4" stroke-opacity="0.4"/><polyline points="817.5,262.6 912.0,245.4 1007.5,252.0 1102.0,242.5 1197.5,233.8"/><polyline points="1197.5,233.8 1291.0,155.6" stroke-opacity="0.4"/><polyline points="817.5,258.5 912.0,253.2 1007.5,251.4 1102.0,248.5 1197.5,237.5"/><polyline points="1197.5,237.5 1291.0,175.8" stroke-opacity="0.4"/><polyline points="817.5,258.3 912.0,247.3 1007.5,254.2 1102.0,246.2 1197.5,240.4"/><polyline points="1197.5,240.4 1291.0,163.6" stroke-opacity="0.4"/><polyline points="817.5,254.3 912.0,247.3 1007.5,255.9 1102.0,238.5 1197.5,234.8"/><polyline points="1197.5,234.8 1291.0,156.5" stroke-opacity="0.4"/><polyline points="817.5,255.5 912.0,246.0 1007.5,253.2 1102.0,244.3 1197.5,233.3"/><polyline points="1197.5,233.3 1291.0,155.3" stroke-opacity="0.4"/><polyline points="817.5,253.1 912.0,252.8 1007.5,242.2 1102.0,244.2 1197.5,229.1"/><polyline points="1197.5,229.1 1291.0,149.5" stroke-opacity="0.4"/><polyline points="817.5,258.8 912.0,253.3 1007.5,253.2 1102.0,249.8 1197.5,239.1"/><polyline points="1197.5,239.1 1291.0,161.0" stroke-opacity="0.4"/><polyline points="817.5,253.4 912.0,250.3 1007.5,252.0 1102.0,242.6 1197.5,232.7"/><polyline points="1197.5,232.7 1291.0,151.1" stroke-opacity="0.4"/><polyline points="817.5,258.2 912.0,252.2 1007.5,247.6 1102.0,246.8 1197.5,232.8"/><polyline points="1197.5,232.8 1291.0,156.8" stroke-opacity="0.4"/><polyline points="817.5,256.2 912.0,249.8 1007.5,240.2 1102.0,246.5 1197.5,231.2"/><polyline points="1197.5,231.2 1291.0,150.0" stroke-opacity="0.4"/><polyline points="817.5,257.6 912.0,246.6 1007.5,247.2 1102.0,237.7 1197.5,233.4"/><polyline points="1197.5,233.4 1291.0,169.0" stroke-opacity="0.4"/><polyline points="817.5,257.7 912.0,253.5 1007.5,250.2 1102.0,246.2 1197.5,231.8"/><polyline points="1197.5,231.8 1291.0,167.9" stroke-opacity="0.4"/><polyline points="817.5,256.4 912.0,247.6 1007.5,251.0 1102.0,243.2 1197.5,232.9"/><polyline points="1197.5,232.9 1291.0,158.0" stroke-opacity="0.4"/><polyline points="817.5,254.6 912.0,240.8 1007.5,246.9 1102.0,241.9 1197.5,227.4"/><polyline points="1197.5,227.4 1291.0,154.8" stroke-opacity="0.4"/><polyline points="817.5,254.7 912.0,252.2 1007.5,251.4 1102.0,245.9 1197.5,228.0"/><polyline points="1197.5,228.0 1291.0,157.6" stroke-opacity="0.4"/><polyline points="817.5,259.8 912.0,252.2 1007.5,247.2 1102.0,248.4 1197.5,234.4"/><polyline points="1197.5,234.4 1291.0,169.9" stroke-opacity="0.4"/><polyline points="817.5,256.1 912.0,246.7 1007.5,249.2 1102.0,250.1 1197.5,234.6"/><polyline points="1197.5,234.6 1291.0,147.0" stroke-opacity="0.4"/><polyline points="817.5,258.4 912.0,252.4 1007.5,244.0 1102.0,243.2 1197.5,233.4"/><polyline points="1197.5,233.4 1291.0,159.9" stroke-opacity="0.4"/><polyline points="817.5,261.3 912.0,251.4 1007.5,248.8 1102.0,243.9 1197.5,231.4"/><polyline points="1197.5,231.4 1291.0,155.4" stroke-opacity="0.4"/><polyline points="817.5,257.3 912.0,247.8 1007.5,250.6 1102.0,243.6 1197.5,230.3"/><polyline points="1197.5,230.3 1291.0,162.0" stroke-opacity="0.4"/><polyline points="817.5,258.7 912.0,246.4 1007.5,243.7 1102.0,244.7 1197.5,229.5"/><polyline points="1197.5,229.5 1291.0,149.7" stroke-opacity="0.4"/><polyline points="817.5,253.7 912.0,248.4 1007.5,245.0 1102.0,242.9 1197.5,228.9"/><polyline points="1197.5,228.9 1291.0,159.9" stroke-opacity="0.4"/><polyline points="817.5,254.6 912.0,252.2 1007.5,250.5 1102.0,245.5 1197.5,237.7"/><polyline points="1197.5,237.7 1291.0,157.3" stroke-opacity="0.4"/><polyline points="817.5,256.1 912.0,251.9 1007.5,252.6 1102.0,250.1 1197.5,237.6"/><polyline points="1197.5,237.6 1291.0,164.5" stroke-opacity="0.4"/><polyline points="817.5,261.5 912.0,245.2 1007.5,247.9 1102.0,253.6 1197.5,232.2"/><polyline points="1197.5,232.2 1291.0,163.0" stroke-opacity="0.4"/><polyline points="817.5,257.2 912.0,252.1 1007.5,254.8 1102.0,250.2 1197.5,235.4"/><polyline points="1197.5,235.4 1291.0,159.0" stroke-opacity="0.4"/><polyline points="817.5,259.1 912.0,248.2 1007.5,249.2 1102.0,245.2 1197.5,234.8"/><polyline points="1197.5,234.8 1291.0,166.7" stroke-opacity="0.4"/><polyline points="817.5,258.3 912.0,252.9 1007.5,252.7 1102.0,250.2 1197.5,234.2"/><polyline points="1197.5,234.2 1291.0,154.3" stroke-opacity="0.4"/><polyline points="817.5,264.6 912.0,256.2 1007.5,253.1 1102.0,248.2 1197.5,234.4"/><polyline points="1197.5,234.4 1291.0,157.7" stroke-opacity="0.4"/><polyline points="817.5,256.4 912.0,253.4 1007.5,246.5 1102.0,245.1 1197.5,238.2"/><polyline points="1197.5,238.2 1291.0,151.1" stroke-opacity="0.4"/><polyline points="817.5,262.9 912.0,253.2 1007.5,247.8 1102.0,250.1 1197.5,235.0"/><polyline points="1197.5,235.0 1291.0,156.7" stroke-opacity="0.4"/><polyline points="817.5,259.6 912.0,252.6 1007.5,251.2 1102.0,243.4 1197.5,233.4"/><polyline points="1197.5,233.4 1291.0,145.6" stroke-opacity="0.4"/><polyline points="817.5,263.6 912.0,251.7 1007.5,252.2 1102.0,248.2 1197.5,230.6"/><polyline points="1197.5,230.6 1291.0,162.6" stroke-opacity="0.4"/><polyline points="817.5,261.4 912.0,259.6 1007.5,252.7 1102.0,243.8 1197.5,241.1"/><polyline points="1197.5,241.1 1291.0,163.7" stroke-opacity="0.4"/><polyline points="817.5,254.7 912.0,244.5 1007.5,243.2 1102.0,242.9 1197.5,231.1"/><polyline points="1197.5,231.1 1291.0,151.0" stroke-opacity="0.4"/><polyline points="817.5,263.6 912.0,254.8 1007.5,248.9 1102.0,246.3 1197.5,237.6"/><polyline points="1197.5,237.6 1291.0,163.5" stroke-opacity="0.4"/><polyline points="817.5,263.9 912.0,261.7 1007.5,254.8 1102.0,251.8 1197.5,236.2"/><polyline points="1197.5,236.2 1291.0,168.1" stroke-opacity="0.4"/><polyline points="817.5,258.7 912.0,253.3 1007.5,250.6 1102.0,248.5 1197.5,235.2"/><polyline points="1197.5,235.2 1291.0,171.1" stroke-opacity="0.4"/><polyline points="817.5,260.7 912.0,250.8 1007.5,248.9 1102.0,238.8 1197.5,235.1"/><polyline points="1197.5,235.1 1291.0,168.8" stroke-opacity="0.4"/><polyline points="817.5,258.2 912.0,254.0 1007.5,254.2 1102.0,250.9 1197.5,238.5"/><polyline points="1197.5,238.5 1291.0,166.1" stroke-opacity="0.4"/><polyline points="817.5,254.7 912.0,247.8 1007.5,252.0 1102.0,249.1 1197.5,234.9"/><polyline points="1197.5,234.9 1291.0,165.8" stroke-opacity="0.4"/><polyline points="817.5,252.4 912.0,247.9 1007.5,248.9 1102.0,248.2 1197.5,231.4"/><polyline points="1197.5,231.4 1291.0,148.0" stroke-opacity="0.4"/><polyline points="817.5,261.5 912.0,255.6 1007.5,255.1 1102.0,249.4 1197.5,231.0"/><polyline points="1197.5,231.0 1291.0,153.9" stroke-opacity="0.4"/><polyline points="817.5,261.7 912.0,254.4 1007.5,256.1 1102.0,247.6 1197.5,234.3"/><polyline points="1197.5,234.3 1291.0,156.3" stroke-opacity="0.4"/><polyline points="817.5,256.9 912.0,249.9 1007.5,254.3 1102.0,250.0 1197.5,236.1"/><polyline points="1197.5,236.1 1291.0,161.3" stroke-opacity="0.4"/><polyline points="817.5,259.5 912.0,256.5 1007.5,251.2 1102.0,243.5 1197.5,234.4"/><polyline points="1197.5,234.4 1291.0,165.6" stroke-opacity="0.4"/><polyline points="817.5,260.0 912.0,247.0 1007.5,247.4 1102.0,242.7 1197.5,235.1"/><polyline points="1197.5,235.1 1291.0,159.8" stroke-opacity="0.4"/><polyline points="817.5,258.7 912.0,246.6 1007.5,245.3 1102.0,246.8 1197.5,227.0"/><polyline points="1197.5,227.0 1291.0,150.9" stroke-opacity="0.4"/><polyline points="817.5,260.0 912.0,252.6 1007.5,248.6 1102.0,246.9 1197.5,230.0"/><polyline points="1197.5,230.0 1291.0,163.7" stroke-opacity="0.4"/><polyline points="817.5,265.1 912.0,258.4 1007.5,255.3 1102.0,254.1 1197.5,238.9"/><polyline points="1197.5,238.9 1291.0,169.2" stroke-opacity="0.4"/><polyline points="817.5,257.7 912.0,247.4 1007.5,253.8 1102.0,250.0 1197.5,231.8"/><polyline points="1197.5,231.8 1291.0,143.9" stroke-opacity="0.4"/><polyline points="817.5,260.7 912.0,248.9 1007.5,248.5 1102.0,247.2 1197.5,234.5"/><polyline points="1197.5,234.5 1291.0,163.2" stroke-opacity="0.4"/><polyline points="817.5,261.9 912.0,248.4 1007.5,248.4 1102.0,254.2 1197.5,229.5"/><polyline points="1197.5,229.5 1291.0,153.3" stroke-opacity="0.4"/><polyline points="817.5,259.2 912.0,252.5 1007.5,254.3 1102.0,249.6 1197.5,237.6"/><polyline points="1197.5,237.6 1291.0,157.0" stroke-opacity="0.4"/><polyline points="817.5,265.5 912.0,250.1 1007.5,248.6 1102.0,248.3 1197.5,235.5"/><polyline points="1197.5,235.5 1291.0,161.4" stroke-opacity="0.4"/><polyline points="817.5,258.3 912.0,253.8 1007.5,253.0 1102.0,247.7 1197.5,233.5"/><polyline points="1197.5,233.5 1291.0,159.7" stroke-opacity="0.4"/><polyline points="817.5,258.0 912.0,248.3 1007.5,253.0 1102.0,246.1 1197.5,231.2"/><polyline points="1197.5,231.2 1291.0,164.5" stroke-opacity="0.4"/><polyline points="817.5,256.2 912.0,250.7 1007.5,249.2 1102.0,253.6 1197.5,234.1"/><polyline points="1197.5,234.1 1291.0,176.3" stroke-opacity="0.4"/><polyline points="817.5,262.5 912.0,260.1 1007.5,255.4 1102.0,252.0 1197.5,242.0"/><polyline points="1197.5,242.0 1291.0,165.3" stroke-opacity="0.4"/><polyline points="817.5,261.5 912.0,245.6 1007.5,242.2 1102.0,241.1 1197.5,227.3"/><polyline points="1197.5,227.3 1291.0,153.8" stroke-opacity="0.4"/><polyline points="817.5,261.7 912.0,258.8 1007.5,251.7 1102.0,253.7 1197.5,238.7"/><polyline points="1197.5,238.7 1291.0,166.7" stroke-opacity="0.4"/><polyline points="817.5,254.9 912.0,246.0 1007.5,244.7 1102.0,247.2 1197.5,232.4"/><polyline points="1197.5,232.4 1291.0,158.2" stroke-opacity="0.4"/><polyline points="817.5,264.4 912.0,250.3 1007.5,254.1 1102.0,241.1 1197.5,232.1"/><polyline points="1197.5,232.1 1291.0,160.6" stroke-opacity="0.4"/><polyline points="817.5,254.4 912.0,258.7 1007.5,252.9 1102.0,249.2 1197.5,234.4"/><polyline points="1197.5,234.4 1291.0,163.8" stroke-opacity="0.4"/><polyline points="817.5,255.6 912.0,252.9 1007.5,238.5 1102.0,238.4 1197.5,227.5"/><polyline points="1197.5,227.5 1291.0,148.6" stroke-opacity="0.4"/><polyline points="817.5,257.2 912.0,246.3 1007.5,247.6 1102.0,242.4 1197.5,227.4"/><polyline points="1197.5,227.4 1291.0,147.5" stroke-opacity="0.4"/><polyline points="817.5,256.7 912.0,245.5 1007.5,251.5 1102.0,246.8 1197.5,234.5"/><polyline points="1197.5,234.5 1291.0,161.3" stroke-opacity="0.4"/><polyline points="817.5,259.9 912.0,245.8 1007.5,241.9 1102.0,239.8 1197.5,233.5"/><polyline points="1197.5,233.5 1291.0,160.4" stroke-opacity="0.4"/><polyline points="817.5,257.8 912.0,249.6 1007.5,250.2 1102.0,249.3 1197.5,232.9"/><polyline points="1197.5,232.9 1291.0,160.2" stroke-opacity="0.4"/><polyline points="817.5,256.5 912.0,241.3 1007.5,244.2 1102.0,242.9 1197.5,227.5"/><polyline points="1197.5,227.5 1291.0,145.8" stroke-opacity="0.4"/><polyline points="817.5,256.4 912.0,252.6 1007.5,251.0 1102.0,242.2 1197.5,229.5"/><polyline points="1197.5,229.5 1291.0,154.0" stroke-opacity="0.4"/><polyline points="817.5,257.0 912.0,251.1 1007.5,241.4 1102.0,239.2 1197.5,230.8"/><polyline points="1197.5,230.8 1291.0,149.6" stroke-opacity="0.4"/><polyline points="817.5,259.1 912.0,254.4 1007.5,251.9 1102.0,250.4 1197.5,238.5"/><polyline points="1197.5,238.5 1291.0,159.2" stroke-opacity="0.4"/><polyline points="817.5,260.6 912.0,249.7 1007.5,247.8 1102.0,241.7 1197.5,231.6"/><polyline points="1197.5,231.6 1291.0,157.4" stroke-opacity="0.4"/></g><polyline points="817.5,267.8 912,26 1007.5,222.6 1102,239 1197.5,225.2 1291,233.8" fill="none" stroke="#c21f2c" stroke-width="1.9" stroke-linejoin="round"/><line x1="817.5" y1="6.5" x2="817.5" y2="295.5" stroke="#111" stroke-width="2"/><line x1="817.5" y1="292" x2="1291" y2="292" stroke="#333" stroke-width="2.3"/><line x1="813.5" y1="292" x2="817.5" y2="292" stroke="#111" stroke-width="1.5"/><line x1="813.5" y1="234.9" x2="817.5" y2="234.9" stroke="#111" stroke-width="1.5"/><line x1="813.5" y1="177.8" x2="817.5" y2="177.8" stroke="#111" stroke-width="1.5"/><line x1="813.5" y1="120.7" x2="817.5" y2="120.7" stroke="#111" stroke-width="1.5"/><line x1="813.5" y1="63.6" x2="817.5" y2="63.6" stroke="#111" stroke-width="1.5"/><line x1="813.5" y1="6.5" x2="817.5" y2="6.5" stroke="#111" stroke-width="1.5"/><text transform="translate(805.5,298.72) scale(1.16,1)" text-anchor="end" font-family="DejaVu Sans" font-size="16.8" fill="#1a1a1a" stroke="#1a1a1a" stroke-width="0.12">0%</text><text transform="translate(806.1,241.42) scale(1.16,1)" text-anchor="end" font-family="DejaVu Sans" font-size="16.8" fill="#1a1a1a" stroke="#1a1a1a" stroke-width="0.12">10%</text><text transform="translate(806.4,184.32) scale(1.16,1)" text-anchor="end" font-family="DejaVu Sans" font-size="16.8" fill="#1a1a1a" stroke="#1a1a1a" stroke-width="0.12">20%</text><text transform="translate(803.4,125.92) scale(1.16,1)" text-anchor="end" font-family="DejaVu Sans" font-size="16.8" fill="#1a1a1a" stroke="#1a1a1a" stroke-width="0.12">30%</text><text transform="translate(804,69.12) scale(1.16,1)" text-anchor="end" font-family="DejaVu Sans" font-size="16.8" fill="#1a1a1a" stroke="#1a1a1a" stroke-width="0.12">40%</text><text transform="translate(801.3,14.72) scale(1.16,1)" text-anchor="end" font-family="DejaVu Sans" font-size="16.8" fill="#1a1a1a" stroke="#1a1a1a" stroke-width="0.12">50%</text><line x1="914" y1="292" x2="914" y2="296" stroke="#111" stroke-width="1.5"/><line x1="1009.5" y1="292" x2="1009.5" y2="296" stroke="#111" stroke-width="1.5"/><line x1="1104" y1="292" x2="1104" y2="296" stroke="#111" stroke-width="1.5"/><line x1="1199.5" y1="292" x2="1199.5" y2="296" stroke="#111" stroke-width="1.5"/><line x1="1293" y1="292" x2="1293" y2="296" stroke="#111" stroke-width="1.5"/><text x="844.4" y="40.6" font-size="45.5" fill="#000">C2</text><text transform="translate(747,266.2) rotate(-89.4) scale(0.841,1)" font-size="27.5" fill="#111">Percentage of subtrees</text><line x1="785.6" y1="472.5" x2="785.6" y2="506.4" stroke="#1a1a1a" stroke-width="1.5"/><text transform="translate(786.7,462.6) rotate(-90) scale(0.8,1)" font-size="28.8" font-style="italic" fill="#111">Asplenium</text><line x1="865.7" y1="472.5" x2="865.7" y2="506.4" stroke="#1a1a1a" stroke-width="1.5"/><text transform="translate(873.4,462.6) rotate(-90) scale(0.8,1)" font-size="28.8" font-style="italic" fill="#111">Dennstaedtia</text><line x1="954.6" y1="472.5" x2="954.6" y2="534.2" stroke="#1a1a1a" stroke-width="1.5"/><text transform="translate(963.9,464.6) rotate(-90) scale(0.8,1)" font-size="28.8" font-style="italic" fill="#111">Ceratopteris</text><line x1="1063.5" y1="472.5" x2="1063.5" y2="568.5" stroke="#1a1a1a" stroke-width="1.5"/><text transform="translate(1072.6,462.4) rotate(-90) scale(0.8,1)" font-size="28.8" font-style="italic" fill="#111">Lonchitis</text><line x1="1161.8" y1="472.5" x2="1161.8" y2="602.8" stroke="#1a1a1a" stroke-width="1.5"/><text transform="translate(1167.1,464) rotate(-90) scale(0.8,1)" font-size="28.8" font-style="italic" fill="#111">Culcita</text><line x1="1257" y1="472.5" x2="1257" y2="637.7" stroke="#1a1a1a" stroke-width="1.5"/><text transform="translate(1267.3,464) rotate(-90) scale(0.8,1)" font-size="28.8" font-style="italic" fill="#111">Azolla</text><line x1="1353.8" y1="472.5" x2="1353.8" y2="673.9" stroke="#1a1a1a" stroke-width="1.5"/><text transform="translate(1359.9,463) rotate(-90) scale(0.8,1)" font-size="28.8" font-style="italic" fill="#111">Lygodium</text><line x1="785.6" y1="506.4" x2="865.7" y2="506.4" stroke="#1a1a1a" stroke-width="1.5"/><line x1="829" y1="506.4" x2="829" y2="534.2" stroke="#1a1a1a" stroke-width="1.5"/><line x1="829" y1="534.2" x2="954.6" y2="534.2" stroke="#1a1a1a" stroke-width="1.5"/><line x1="901.4" y1="534.2" x2="901.4" y2="568.5" stroke="#1a1a1a" stroke-width="1.5"/><line x1="901.4" y1="568.5" x2="1063.5" y2="568.5" stroke="#1a1a1a" stroke-width="1.5"/><line x1="994.8" y1="568.5" x2="994.8" y2="602.8" stroke="#1a1a1a" stroke-width="1.5"/><line x1="994.8" y1="602.8" x2="1161.8" y2="602.8" stroke="#1a1a1a" stroke-width="1.5"/><line x1="1083.7" y1="602.8" x2="1083.7" y2="637.7" stroke="#1a1a1a" stroke-width="1.5"/><line x1="1083.7" y1="637.7" x2="1257" y2="637.7" stroke="#1a1a1a" stroke-width="1.5"/><line x1="1184.4" y1="637.7" x2="1184.4" y2="673.9" stroke="#1a1a1a" stroke-width="1.5"/><line x1="1184.4" y1="673.9" x2="1353.8" y2="673.9" stroke="#1a1a1a" stroke-width="1.5"/><line x1="1274.4" y1="673.9" x2="1274.4" y2="707.7" stroke="#1a1a1a" stroke-width="1.5"/><ellipse cx="900.8" cy="551.3" rx="13.7" ry="7.1" fill="#ee2b30" stroke="#1a1a1a" stroke-width="1.4"/><text x="864.5" y="592.7" font-size="24" font-weight="bold" letter-spacing="0.75" fill="#000">PTERα</text><line x1="1543.3" y1="294.5" x2="1543.3" y2="503" stroke="#858585" stroke-width="1.6" stroke-dasharray="6.3 4.2 6.3 4.2 6.3 3.6 1.2 3 1.2 4.2"/><line x1="1636" y1="165.3" x2="1636" y2="533" stroke="#858585" stroke-width="1.6" stroke-dasharray="6.3 4.2 6.3 4.2 6.3 3.6 1.2 3 1.2 4.2"/><line x1="1730.8" y1="79.5" x2="1730.8" y2="565.5" stroke="#858585" stroke-width="1.6" stroke-dasharray="6.3 4.2 6.3 4.2 6.3 3.6 1.2 3 1.2 4.2"/><line x1="1824.5" y1="187.2" x2="1824.5" y2="598.5" stroke="#858585" stroke-width="1.6" stroke-dasharray="6.3 4.2 6.3 4.2 6.3 3.6 1.2 3 1.2 4.2"/><line x1="1917" y1="270" x2="1917" y2="634" stroke="#858585" stroke-width="1.6" stroke-dasharray="6.3 4.2 6.3 4.2 6.3 3.6 1.2 3 1.2 4.2"/><line x1="2012" y1="242.5" x2="2012" y2="670.8" stroke="#858585" stroke-width="1.6" stroke-dasharray="6.3 4.2 6.3 4.2 6.3 3.6 1.2 3 1.2 4.2"/><g fill="none" stroke="#999" stroke-width="0.8" stroke-opacity="0.32" stroke-linejoin="round"><polyline points="1543.3,107.1 1636.0,100.6 1730.8,107.0 1824.5,109.4 1917.0,244.1 2012.0,59.3"/><polyline points="1543.3,125.8 1636.0,101.9 1730.8,81.2 1824.5,93.9 1917.0,236.9 2012.0,35.7"/><polyline points="1543.3,109.9 1636.0,102.4 1730.8,86.2 1824.5,86.9 1917.0,245.2 2012.0,38.5"/><polyline points="1543.3,101.9 1636.0,80.2 1730.8,99.9 1824.5,93.3 1917.0,238.5 2012.0,37.4"/><polyline points="1543.3,115.6 1636.0,93.3 1730.8,112.4 1824.5,110.6 1917.0,240.1 2012.0,40.0"/><polyline points="1543.3,100.4 1636.0,80.7 1730.8,83.2 1824.5,80.6 1917.0,232.7 2012.0,29.4"/><polyline points="1543.3,119.5 1636.0,115.8 1730.8,109.5 1824.5,113.9 1917.0,243.7 2012.0,68.7"/><polyline points="1543.3,106.4 1636.0,87.2 1730.8,82.9 1824.5,104.7 1917.0,238.0 2012.0,49.9"/><polyline points="1543.3,104.5 1636.0,91.3 1730.8,82.2 1824.5,107.3 1917.0,241.0 2012.0,51.5"/><polyline points="1543.3,108.0 1636.0,109.6 1730.8,108.7 1824.5,101.3 1917.0,246.5 2012.0,63.1"/><polyline points="1543.3,117.1 1636.0,81.0 1730.8,91.2 1824.5,91.8 1917.0,240.1 2012.0,53.9"/><polyline points="1543.3,96.8 1636.0,108.5 1730.8,104.7 1824.5,96.0 1917.0,233.7 2012.0,32.5"/><polyline points="1543.3,92.7 1636.0,74.3 1730.8,85.4 1824.5,84.2 1917.0,230.2 2012.0,37.8"/><polyline points="1543.3,104.7 1636.0,82.2 1730.8,89.8 1824.5,84.9 1917.0,233.1 2012.0,37.0"/><polyline points="1543.3,106.1 1636.0,95.0 1730.8,99.7 1824.5,86.2 1917.0,234.4 2012.0,47.1"/><polyline points="1543.3,102.1 1636.0,83.3 1730.8,90.2 1824.5,86.3 1917.0,244.6 2012.0,39.8"/><polyline points="1543.3,110.6 1636.0,90.2 1730.8,91.7 1824.5,91.8 1917.0,240.7 2012.0,53.6"/><polyline points="1543.3,88.2 1636.0,89.0 1730.8,84.1 1824.5,79.3 1917.0,235.4 2012.0,29.5"/><polyline points="1543.3,103.0 1636.0,98.1 1730.8,107.5 1824.5,110.6 1917.0,241.9 2012.0,60.4"/><polyline points="1543.3,103.8 1636.0,87.6 1730.8,88.9 1824.5,112.0 1917.0,238.4 2012.0,51.7"/><polyline points="1543.3,129.6 1636.0,96.0 1730.8,92.0 1824.5,96.1 1917.0,244.9 2012.0,67.2"/><polyline points="1543.3,117.1 1636.0,104.6 1730.8,115.5 1824.5,94.9 1917.0,240.5 2012.0,64.8"/><polyline points="1543.3,112.9 1636.0,73.3 1730.8,74.1 1824.5,95.0 1917.0,231.1 2012.0,24.7"/><polyline points="1543.3,119.6 1636.0,88.0 1730.8,99.0 1824.5,101.6 1917.0,246.0 2012.0,39.2"/><polyline points="1543.3,105.5 1636.0,121.1 1730.8,113.7 1824.5,97.6 1917.0,240.6 2012.0,52.9"/><polyline points="1543.3,115.1 1636.0,70.3 1730.8,93.8 1824.5,101.6 1917.0,234.0 2012.0,32.6"/><polyline points="1543.3,95.3 1636.0,71.2 1730.8,88.7 1824.5,92.6 1917.0,235.7 2012.0,50.6"/><polyline points="1543.3,111.4 1636.0,74.7 1730.8,96.8 1824.5,76.6 1917.0,231.4 2012.0,33.2"/><polyline points="1543.3,115.1 1636.0,107.5 1730.8,81.2 1824.5,94.0 1917.0,238.5 2012.0,39.9"/><polyline points="1543.3,114.6 1636.0,114.6 1730.8,90.9 1824.5,96.4 1917.0,235.2 2012.0,43.2"/><polyline points="1543.3,92.5 1636.0,83.3 1730.8,87.0 1824.5,83.4 1917.0,231.4 2012.0,23.9"/><polyline points="1543.3,97.0 1636.0,83.4 1730.8,93.8 1824.5,100.3 1917.0,237.7 2012.0,34.4"/><polyline points="1543.3,103.3 1636.0,82.5 1730.8,79.4 1824.5,95.6 1917.0,238.0 2012.0,32.3"/><polyline points="1543.3,109.5 1636.0,101.3 1730.8,94.7 1824.5,112.2 1917.0,249.3 2012.0,58.2"/><polyline points="1543.3,102.0 1636.0,83.8 1730.8,98.0 1824.5,102.4 1917.0,241.7 2012.0,55.7"/><polyline points="1543.3,98.0 1636.0,83.9 1730.8,93.7 1824.5,81.6 1917.0,240.0 2012.0,46.6"/><polyline points="1543.3,97.4 1636.0,104.3 1730.8,82.2 1824.5,74.1 1917.0,239.9 2012.0,55.3"/><polyline points="1543.3,101.1 1636.0,105.8 1730.8,92.8 1824.5,90.3 1917.0,239.9 2012.0,57.2"/><polyline points="1543.3,124.9 1636.0,88.3 1730.8,103.3 1824.5,108.9 1917.0,244.4 2012.0,37.5"/><polyline points="1543.3,101.8 1636.0,90.3 1730.8,99.8 1824.5,89.6 1917.0,241.6 2012.0,51.1"/><polyline points="1543.3,128.6 1636.0,112.5 1730.8,85.6 1824.5,84.8 1917.0,237.7 2012.0,43.9"/><polyline points="1543.3,104.8 1636.0,100.3 1730.8,105.5 1824.5,107.0 1917.0,241.6 2012.0,53.8"/><polyline points="1543.3,102.1 1636.0,90.2 1730.8,83.3 1824.5,83.9 1917.0,241.1 2012.0,40.3"/><polyline points="1543.3,101.5 1636.0,114.0 1730.8,90.9 1824.5,110.0 1917.0,243.0 2012.0,51.2"/><polyline points="1543.3,123.9 1636.0,102.0 1730.8,98.3 1824.5,110.0 1917.0,241.7 2012.0,54.3"/><polyline points="1543.3,93.8 1636.0,84.2 1730.8,85.3 1824.5,82.5 1917.0,240.0 2012.0,38.6"/><polyline points="1543.3,114.7 1636.0,109.4 1730.8,81.5 1824.5,93.7 1917.0,241.6 2012.0,34.7"/><polyline points="1543.3,101.1 1636.0,71.9 1730.8,93.7 1824.5,87.1 1917.0,237.2 2012.0,27.4"/><polyline points="1543.3,101.8 1636.0,90.9 1730.8,88.7 1824.5,99.1 1917.0,237.6 2012.0,50.3"/><polyline points="1543.3,130.8 1636.0,115.7 1730.8,99.5 1824.5,115.7 1917.0,237.7 2012.0,50.7"/><polyline points="1543.3,97.1 1636.0,72.0 1730.8,89.8 1824.5,100.6 1917.0,233.1 2012.0,35.0"/><polyline points="1543.3,126.5 1636.0,118.8 1730.8,95.6 1824.5,108.6 1917.0,248.2 2012.0,66.2"/><polyline points="1543.3,104.9 1636.0,92.9 1730.8,87.2 1824.5,94.3 1917.0,237.2 2012.0,62.1"/><polyline points="1543.3,116.6 1636.0,82.8 1730.8,101.8 1824.5,88.8 1917.0,231.8 2012.0,24.4"/><polyline points="1543.3,98.6 1636.0,95.5 1730.8,105.6 1824.5,108.2 1917.0,238.4 2012.0,64.0"/><polyline points="1543.3,102.9 1636.0,102.7 1730.8,82.3 1824.5,74.7 1917.0,233.4 2012.0,24.1"/><polyline points="1543.3,109.5 1636.0,80.9 1730.8,104.3 1824.5,83.5 1917.0,236.0 2012.0,29.1"/><polyline points="1543.3,106.2 1636.0,101.9 1730.8,89.3 1824.5,101.8 1917.0,239.1 2012.0,61.6"/><polyline points="1543.3,117.7 1636.0,120.8 1730.8,99.8 1824.5,124.7 1917.0,243.1 2012.0,76.1"/><polyline points="1543.3,107.5 1636.0,108.0 1730.8,75.8 1824.5,81.5 1917.0,239.2 2012.0,36.4"/><polyline points="1543.3,111.5 1636.0,94.6 1730.8,101.9 1824.5,104.5 1917.0,236.5 2012.0,65.0"/><polyline points="1543.3,111.7 1636.0,83.2 1730.8,103.2 1824.5,95.9 1917.0,242.8 2012.0,57.1"/><polyline points="1543.3,109.9 1636.0,129.6 1730.8,92.8 1824.5,107.4 1917.0,241.4 2012.0,55.9"/><polyline points="1543.3,126.6 1636.0,93.7 1730.8,91.9 1824.5,111.5 1917.0,242.9 2012.0,68.1"/><polyline points="1543.3,108.0 1636.0,90.8 1730.8,90.3 1824.5,106.5 1917.0,244.2 2012.0,64.4"/><polyline points="1543.3,106.9 1636.0,116.6 1730.8,101.7 1824.5,80.8 1917.0,238.7 2012.0,56.8"/><polyline points="1543.3,96.2 1636.0,79.4 1730.8,82.4 1824.5,82.8 1917.0,233.7 2012.0,25.9"/><polyline points="1543.3,99.5 1636.0,74.9 1730.8,98.4 1824.5,99.5 1917.0,231.5 2012.0,34.6"/><polyline points="1543.3,114.2 1636.0,93.1 1730.8,82.9 1824.5,81.7 1917.0,235.2 2012.0,54.3"/><polyline points="1543.3,121.4 1636.0,92.6 1730.8,105.8 1824.5,101.1 1917.0,237.0 2012.0,58.8"/><polyline points="1543.3,115.9 1636.0,97.5 1730.8,100.6 1824.5,93.0 1917.0,241.7 2012.0,49.0"/><polyline points="1543.3,122.8 1636.0,80.8 1730.8,91.8 1824.5,81.7 1917.0,232.4 2012.0,30.3"/><polyline points="1543.3,111.5 1636.0,123.9 1730.8,112.4 1824.5,105.8 1917.0,246.2 2012.0,68.1"/><polyline points="1543.3,105.4 1636.0,72.5 1730.8,74.3 1824.5,83.7 1917.0,238.3 2012.0,25.1"/><polyline points="1543.3,124.5 1636.0,118.5 1730.8,92.0 1824.5,91.9 1917.0,246.4 2012.0,68.4"/><polyline points="1543.3,115.7 1636.0,79.4 1730.8,78.4 1824.5,94.3 1917.0,238.9 2012.0,32.2"/><polyline points="1543.3,106.6 1636.0,79.8 1730.8,78.5 1824.5,93.3 1917.0,235.6 2012.0,52.6"/><polyline points="1543.3,91.9 1636.0,86.4 1730.8,99.3 1824.5,95.7 1917.0,240.8 2012.0,24.4"/><polyline points="1543.3,106.0 1636.0,105.7 1730.8,91.1 1824.5,98.2 1917.0,239.2 2012.0,53.3"/><polyline points="1543.3,116.8 1636.0,103.5 1730.8,107.0 1824.5,106.2 1917.0,241.6 2012.0,59.1"/><polyline points="1543.3,105.4 1636.0,84.3 1730.8,88.9 1824.5,98.4 1917.0,238.4 2012.0,50.9"/><polyline points="1543.3,110.2 1636.0,102.2 1730.8,114.1 1824.5,92.3 1917.0,247.6 2012.0,60.0"/><polyline points="1543.3,107.7 1636.0,105.6 1730.8,96.7 1824.5,77.1 1917.0,236.9 2012.0,58.4"/><polyline points="1543.3,105.1 1636.0,115.5 1730.8,104.3 1824.5,103.9 1917.0,240.0 2012.0,53.3"/><polyline points="1543.3,107.3 1636.0,82.1 1730.8,95.8 1824.5,83.2 1917.0,239.2 2012.0,53.9"/><polyline points="1543.3,119.5 1636.0,107.9 1730.8,87.1 1824.5,97.5 1917.0,234.6 2012.0,40.0"/><polyline points="1543.3,106.8 1636.0,111.2 1730.8,116.7 1824.5,109.0 1917.0,238.7 2012.0,51.7"/><polyline points="1543.3,114.3 1636.0,116.3 1730.8,101.9 1824.5,115.1 1917.0,247.3 2012.0,71.7"/><polyline points="1543.3,123.7 1636.0,107.7 1730.8,113.3 1824.5,101.3 1917.0,243.9 2012.0,61.0"/><polyline points="1543.3,115.3 1636.0,98.9 1730.8,96.6 1824.5,111.0 1917.0,244.0 2012.0,66.1"/><polyline points="1543.3,85.0 1636.0,82.7 1730.8,89.3 1824.5,83.8 1917.0,240.0 2012.0,27.7"/><polyline points="1543.3,135.1 1636.0,101.7 1730.8,108.6 1824.5,114.3 1917.0,246.6 2012.0,58.5"/><polyline points="1543.3,128.7 1636.0,89.6 1730.8,91.7 1824.5,101.0 1917.0,243.5 2012.0,56.9"/><polyline points="1543.3,102.0 1636.0,81.9 1730.8,90.0 1824.5,98.8 1917.0,243.9 2012.0,57.0"/><polyline points="1543.3,114.2 1636.0,97.0 1730.8,104.3 1824.5,92.3 1917.0,246.9 2012.0,41.2"/><polyline points="1543.3,121.6 1636.0,108.8 1730.8,93.0 1824.5,93.9 1917.0,233.8 2012.0,58.8"/><polyline points="1543.3,97.2 1636.0,76.9 1730.8,97.1 1824.5,94.9 1917.0,233.6 2012.0,27.2"/><polyline points="1543.3,95.5 1636.0,83.2 1730.8,100.2 1824.5,82.5 1917.0,235.3 2012.0,35.1"/><polyline points="1543.3,99.2 1636.0,102.5 1730.8,79.8 1824.5,100.6 1917.0,234.5 2012.0,57.8"/><polyline points="1543.3,134.3 1636.0,116.0 1730.8,106.7 1824.5,113.6 1917.0,242.2 2012.0,57.5"/><polyline points="1543.3,106.8 1636.0,98.2 1730.8,94.3 1824.5,97.1 1917.0,232.0 2012.0,54.6"/><polyline points="1543.3,107.9 1636.0,91.0 1730.8,96.0 1824.5,76.9 1917.0,231.2 2012.0,50.1"/><polyline points="1543.3,106.9 1636.0,92.0 1730.8,93.7 1824.5,81.1 1917.0,234.5 2012.0,21.4"/><polyline points="1543.3,92.8 1636.0,71.6 1730.8,86.7 1824.5,94.5 1917.0,241.1 2012.0,55.6"/><polyline points="1543.3,108.0 1636.0,92.6 1730.8,79.2 1824.5,93.0 1917.0,235.5 2012.0,22.2"/><polyline points="1543.3,132.5 1636.0,104.1 1730.8,114.1 1824.5,101.2 1917.0,239.2 2012.0,49.4"/><polyline points="1543.3,96.7 1636.0,77.9 1730.8,73.5 1824.5,77.6 1917.0,234.2 2012.0,45.2"/><polyline points="1543.3,135.5 1636.0,96.7 1730.8,96.2 1824.5,89.9 1917.0,242.2 2012.0,48.0"/><polyline points="1543.3,134.5 1636.0,113.8 1730.8,108.8 1824.5,122.2 1917.0,249.3 2012.0,44.4"/><polyline points="1543.3,90.2 1636.0,92.7 1730.8,99.9 1824.5,95.1 1917.0,242.0 2012.0,56.8"/><polyline points="1543.3,100.8 1636.0,80.6 1730.8,84.3 1824.5,87.7 1917.0,241.7 2012.0,25.5"/><polyline points="1543.3,111.7 1636.0,119.9 1730.8,100.8 1824.5,88.4 1917.0,244.2 2012.0,48.2"/><polyline points="1543.3,140.1 1636.0,114.8 1730.8,107.8 1824.5,118.1 1917.0,245.9 2012.0,50.7"/><polyline points="1543.3,123.2 1636.0,97.8 1730.8,102.3 1824.5,98.2 1917.0,235.9 2012.0,48.1"/><polyline points="1543.3,116.9 1636.0,103.8 1730.8,85.7 1824.5,95.9 1917.0,238.7 2012.0,55.8"/><polyline points="1543.3,92.6 1636.0,100.5 1730.8,87.4 1824.5,94.9 1917.0,230.8 2012.0,49.5"/><polyline points="1543.3,122.2 1636.0,92.8 1730.8,108.7 1824.5,91.4 1917.0,243.8 2012.0,52.9"/><polyline points="1543.3,107.9 1636.0,108.0 1730.8,95.9 1824.5,106.0 1917.0,237.2 2012.0,61.2"/><polyline points="1543.3,94.7 1636.0,73.8 1730.8,84.5 1824.5,75.9 1917.0,232.6 2012.0,25.6"/><polyline points="1543.3,116.8 1636.0,102.3 1730.8,83.8 1824.5,102.7 1917.0,240.1 2012.0,37.7"/><polyline points="1543.3,116.6 1636.0,91.7 1730.8,110.3 1824.5,116.0 1917.0,236.0 2012.0,48.6"/><polyline points="1543.3,95.8 1636.0,114.2 1730.8,101.3 1824.5,93.0 1917.0,235.0 2012.0,33.1"/><polyline points="1543.3,114.1 1636.0,112.3 1730.8,103.9 1824.5,118.4 1917.0,244.2 2012.0,68.6"/><polyline points="1543.3,114.2 1636.0,87.6 1730.8,95.6 1824.5,94.8 1917.0,242.3 2012.0,33.9"/><polyline points="1543.3,94.2 1636.0,92.8 1730.8,97.6 1824.5,91.9 1917.0,232.7 2012.0,36.2"/><polyline points="1543.3,127.9 1636.0,127.5 1730.8,111.7 1824.5,111.9 1917.0,242.5 2012.0,67.6"/><polyline points="1543.3,88.5 1636.0,79.6 1730.8,94.6 1824.5,74.0 1917.0,237.7 2012.0,38.0"/><polyline points="1543.3,101.5 1636.0,80.9 1730.8,97.8 1824.5,91.7 1917.0,238.5 2012.0,47.4"/><polyline points="1543.3,112.3 1636.0,106.2 1730.8,89.8 1824.5,88.5 1917.0,241.2 2012.0,54.2"/><polyline points="1543.3,104.8 1636.0,88.3 1730.8,82.0 1824.5,97.1 1917.0,239.7 2012.0,52.0"/></g><g fill="none" stroke="#999" stroke-width="0.8" stroke-opacity="0.32" stroke-linejoin="round"><polyline points="1543.3,109.3 1636.0,95.5 1730.8,69.9 1824.5,104.3 1917.0,239.3 2012.0,45.0"/><polyline points="1543.3,123.5 1636.0,91.4 1730.8,73.8 1824.5,97.7 1917.0,232.3 2012.0,33.2"/><polyline points="1543.3,110.9 1636.0,84.1 1730.8,83.4 1824.5,105.8 1917.0,239.2 2012.0,50.1"/><polyline points="1543.3,102.9 1636.0,88.0 1730.8,76.3 1824.5,84.4 1917.0,235.7 2012.0,38.0"/><polyline points="1543.3,111.4 1636.0,98.5 1730.8,81.0 1824.5,97.9 1917.0,240.5 2012.0,47.8"/><polyline points="1543.3,105.5 1636.0,87.6 1730.8,76.0 1824.5,82.5 1917.0,234.4 2012.0,47.0"/><polyline points="1543.3,114.4 1636.0,88.2 1730.8,69.6 1824.5,82.7 1917.0,241.8 2012.0,24.6"/><polyline points="1543.3,110.7 1636.0,96.3 1730.8,59.8 1824.5,100.3 1917.0,234.2 2012.0,50.7"/></g><g fill="none" stroke="#000" stroke-width="0.8" stroke-opacity="0.22" stroke-linejoin="round"><polyline points="1543.3,246.5 1636.0,262.3 1730.8,231.0" stroke-opacity="0.25"/><polyline points="1730.8,231.0 1824.5,238.7" stroke-opacity="0.28"/><polyline points="1824.5,238.7 1917.0,256.9" stroke-opacity="0.3"/><polyline points="1917.0,256.9 2012.0,102.4" stroke-opacity="0.5"/><polyline points="1543.3,241.9 1636.0,265.2 1730.8,240.6" stroke-opacity="0.25"/><polyline points="1730.8,240.6 1824.5,235.5" stroke-opacity="0.28"/><polyline points="1824.5,235.5 1917.0,265.5" stroke-opacity="0.3"/><polyline points="1917.0,265.5 2012.0,107.0" stroke-opacity="0.5"/><polyline points="1543.3,256.3 1636.0,260.1 1730.8,225.3" stroke-opacity="0.25"/><polyline points="1730.8,225.3 1824.5,227.9" stroke-opacity="0.28"/><polyline points="1824.5,227.9 1917.0,262.4" stroke-opacity="0.3"/><polyline points="1917.0,262.4 2012.0,94.4" stroke-opacity="0.5"/><polyline points="1543.3,254.5 1636.0,264.5 1730.8,244.7" stroke-opacity="0.25"/><polyline points="1730.8,244.7 1824.5,230.7" stroke-opacity="0.28"/><polyline points="1824.5,230.7 1917.0,258.1" stroke-opacity="0.3"/><polyline points="1917.0,258.1 2012.0,109.9" stroke-opacity="0.5"/><polyline points="1543.3,245.3 1636.0,260.2 1730.8,231.3" stroke-opacity="0.25"/><polyline points="1730.8,231.3 1824.5,232.0" stroke-opacity="0.28"/><polyline points="1824.5,232.0 1917.0,253.0" stroke-opacity="0.3"/><polyline points="1917.0,253.0 2012.0,103.2" stroke-opacity="0.5"/><polyline points="1543.3,247.9 1636.0,266.7 1730.8,239.0" stroke-opacity="0.25"/><polyline points="1730.8,239.0 1824.5,236.5" stroke-opacity="0.28"/><polyline points="1824.5,236.5 1917.0,264.1" stroke-opacity="0.3"/><polyline points="1917.0,264.1 2012.0,105.6" stroke-opacity="0.5"/><polyline points="1543.3,253.7 1636.0,261.1 1730.8,219.7" stroke-opacity="0.25"/><polyline points="1730.8,219.7 1824.5,230.3" stroke-opacity="0.28"/><polyline points="1824.5,230.3 1917.0,257.2" stroke-opacity="0.3"/><polyline points="1917.0,257.2 2012.0,99.8" stroke-opacity="0.5"/><polyline points="1543.3,246.6 1636.0,270.2 1730.8,229.0" stroke-opacity="0.25"/><polyline points="1730.8,229.0 1824.5,231.3" stroke-opacity="0.28"/><polyline points="1824.5,231.3 1917.0,255.5" stroke-opacity="0.3"/><polyline points="1917.0,255.5 2012.0,94.5" stroke-opacity="0.5"/><polyline points="1543.3,254.3 1636.0,259.3 1730.8,241.0" stroke-opacity="0.25"/><polyline points="1730.8,241.0 1824.5,232.5" stroke-opacity="0.28"/><polyline points="1824.5,232.5 1917.0,261.3" stroke-opacity="0.3"/><polyline points="1917.0,261.3 2012.0,106.7" stroke-opacity="0.5"/><polyline points="1543.3,249.8 1636.0,266.0 1730.8,243.4" stroke-opacity="0.25"/><polyline points="1730.8,243.4 1824.5,238.6" stroke-opacity="0.28"/><polyline points="1824.5,238.6 1917.0,254.6" stroke-opacity="0.3"/><polyline points="1917.0,254.6 2012.0,91.5" stroke-opacity="0.5"/><polyline points="1543.3,248.6 1636.0,262.3 1730.8,241.7" stroke-opacity="0.25"/><polyline points="1730.8,241.7 1824.5,236.7" stroke-opacity="0.28"/><polyline points="1824.5,236.7 1917.0,252.8" stroke-opacity="0.3"/><polyline points="1917.0,252.8 2012.0,74.6" stroke-opacity="0.5"/><polyline points="1543.3,248.5 1636.0,257.8 1730.8,230.5" stroke-opacity="0.25"/><polyline points="1730.8,230.5 1824.5,227.9" stroke-opacity="0.28"/><polyline points="1824.5,227.9 1917.0,255.9" stroke-opacity="0.3"/><polyline points="1917.0,255.9 2012.0,85.6" stroke-opacity="0.5"/><polyline points="1543.3,256.6 1636.0,268.7 1730.8,233.1" stroke-opacity="0.25"/><polyline points="1730.8,233.1 1824.5,236.9" stroke-opacity="0.28"/><polyline points="1824.5,236.9 1917.0,265.4" stroke-opacity="0.3"/><polyline points="1917.0,265.4 2012.0,114.9" stroke-opacity="0.5"/><polyline points="1543.3,247.3 1636.0,263.9 1730.8,229.6" stroke-opacity="0.25"/><polyline points="1730.8,229.6 1824.5,227.7" stroke-opacity="0.28"/><polyline points="1824.5,227.7 1917.0,259.4" stroke-opacity="0.3"/><polyline points="1917.0,259.4 2012.0,85.2" stroke-opacity="0.5"/><polyline points="1543.3,245.2 1636.0,262.9 1730.8,226.8" stroke-opacity="0.25"/><polyline points="1730.8,226.8 1824.5,224.2" stroke-opacity="0.28"/><polyline points="1824.5,224.2 1917.0,260.6" stroke-opacity="0.3"/><polyline points="1917.0,260.6 2012.0,90.7" stroke-opacity="0.5"/><polyline points="1543.3,251.9 1636.0,263.5 1730.8,239.2" stroke-opacity="0.25"/><polyline points="1730.8,239.2 1824.5,238.1" stroke-opacity="0.28"/><polyline points="1824.5,238.1 1917.0,265.9" stroke-opacity="0.3"/><polyline points="1917.0,265.9 2012.0,94.2" stroke-opacity="0.5"/><polyline points="1543.3,249.3 1636.0,257.9 1730.8,237.2" stroke-opacity="0.25"/><polyline points="1730.8,237.2 1824.5,227.0" stroke-opacity="0.28"/><polyline points="1824.5,227.0 1917.0,257.9" stroke-opacity="0.3"/><polyline points="1917.0,257.9 2012.0,94.5" stroke-opacity="0.5"/><polyline points="1543.3,247.5 1636.0,265.6 1730.8,245.8" stroke-opacity="0.25"/><polyline points="1730.8,245.8 1824.5,233.4" stroke-opacity="0.28"/><polyline points="1824.5,233.4 1917.0,258.5" stroke-opacity="0.3"/><polyline points="1917.0,258.5 2012.0,95.6" stroke-opacity="0.5"/><polyline points="1543.3,251.5 1636.0,261.3 1730.8,230.5" stroke-opacity="0.25"/><polyline points="1730.8,230.5 1824.5,237.8" stroke-opacity="0.28"/><polyline points="1824.5,237.8 1917.0,265.5" stroke-opacity="0.3"/><polyline points="1917.0,265.5 2012.0,89.7" stroke-opacity="0.5"/><polyline points="1543.3,249.6 1636.0,261.4 1730.8,235.8" stroke-opacity="0.25"/><polyline points="1730.8,235.8 1824.5,227.6" stroke-opacity="0.28"/><polyline points="1824.5,227.6 1917.0,254.4" stroke-opacity="0.3"/><polyline points="1917.0,254.4 2012.0,98.5" stroke-opacity="0.5"/><polyline points="1543.3,247.6 1636.0,257.1 1730.8,219.9" stroke-opacity="0.25"/><polyline points="1730.8,219.9 1824.5,215.9" stroke-opacity="0.28"/><polyline points="1824.5,215.9 1917.0,252.7" stroke-opacity="0.3"/><polyline points="1917.0,252.7 2012.0,72.1" stroke-opacity="0.5"/><polyline points="1543.3,252.7 1636.0,266.7 1730.8,229.9" stroke-opacity="0.25"/><polyline points="1730.8,229.9 1824.5,241.0" stroke-opacity="0.28"/><polyline points="1824.5,241.0 1917.0,262.2" stroke-opacity="0.3"/><polyline points="1917.0,262.2 2012.0,95.6" stroke-opacity="0.5"/><polyline points="1543.3,247.8 1636.0,264.3 1730.8,228.2" stroke-opacity="0.25"/><polyline points="1730.8,228.2 1824.5,236.3" stroke-opacity="0.28"/><polyline points="1824.5,236.3 1917.0,255.1" stroke-opacity="0.3"/><polyline points="1917.0,255.1 2012.0,93.7" stroke-opacity="0.5"/><polyline points="1543.3,250.2 1636.0,261.9 1730.8,236.7" stroke-opacity="0.25"/><polyline points="1730.8,236.7 1824.5,231.8" stroke-opacity="0.28"/><polyline points="1824.5,231.8 1917.0,256.9" stroke-opacity="0.3"/><polyline points="1917.0,256.9 2012.0,77.4" stroke-opacity="0.5"/><polyline points="1543.3,248.4 1636.0,261.0 1730.8,235.9" stroke-opacity="0.25"/><polyline points="1730.8,235.9 1824.5,223.6" stroke-opacity="0.28"/><polyline points="1824.5,223.6 1917.0,256.0" stroke-opacity="0.3"/><polyline points="1917.0,256.0 2012.0,100.2" stroke-opacity="0.5"/><polyline points="1543.3,242.7 1636.0,263.3 1730.8,225.3" stroke-opacity="0.25"/><polyline points="1730.8,225.3 1824.5,231.4" stroke-opacity="0.28"/><polyline points="1824.5,231.4 1917.0,263.2" stroke-opacity="0.3"/><polyline points="1917.0,263.2 2012.0,97.3" stroke-opacity="0.5"/><polyline points="1543.3,256.0 1636.0,264.3 1730.8,235.4" stroke-opacity="0.25"/><polyline points="1730.8,235.4 1824.5,241.1" stroke-opacity="0.28"/><polyline points="1824.5,241.1 1917.0,254.8" stroke-opacity="0.3"/><polyline points="1917.0,254.8 2012.0,113.6" stroke-opacity="0.5"/><polyline points="1543.3,246.2 1636.0,260.5 1730.8,231.3" stroke-opacity="0.25"/><polyline points="1730.8,231.3 1824.5,226.0" stroke-opacity="0.28"/><polyline points="1824.5,226.0 1917.0,256.8" stroke-opacity="0.3"/><polyline points="1917.0,256.8 2012.0,85.2" stroke-opacity="0.5"/><polyline points="1543.3,248.9 1636.0,263.9 1730.8,236.4" stroke-opacity="0.25"/><polyline points="1730.8,236.4 1824.5,249.3" stroke-opacity="0.28"/><polyline points="1824.5,249.3 1917.0,259.0" stroke-opacity="0.3"/><polyline points="1917.0,259.0 2012.0,104.2" stroke-opacity="0.5"/><polyline points="1543.3,246.1 1636.0,260.6 1730.8,232.2" stroke-opacity="0.25"/><polyline points="1730.8,232.2 1824.5,233.9" stroke-opacity="0.28"/><polyline points="1824.5,233.9 1917.0,252.0" stroke-opacity="0.3"/><polyline points="1917.0,252.0 2012.0,82.0" stroke-opacity="0.5"/><polyline points="1543.3,257.0 1636.0,266.5 1730.8,244.0" stroke-opacity="0.25"/><polyline points="1730.8,244.0 1824.5,242.0" stroke-opacity="0.28"/><polyline points="1824.5,242.0 1917.0,264.6" stroke-opacity="0.3"/><polyline points="1917.0,264.6 2012.0,115.4" stroke-opacity="0.5"/><polyline points="1543.3,238.7 1636.0,261.6 1730.8,232.7" stroke-opacity="0.25"/><polyline points="1730.8,232.7 1824.5,227.7" stroke-opacity="0.28"/><polyline points="1824.5,227.7 1917.0,256.8" stroke-opacity="0.3"/><polyline points="1917.0,256.8 2012.0,88.9" stroke-opacity="0.5"/><polyline points="1543.3,247.4 1636.0,257.8 1730.8,227.6" stroke-opacity="0.25"/><polyline points="1730.8,227.6 1824.5,218.7" stroke-opacity="0.28"/><polyline points="1824.5,218.7 1917.0,249.2" stroke-opacity="0.3"/><polyline points="1917.0,249.2 2012.0,84.3" stroke-opacity="0.5"/><polyline points="1543.3,252.4 1636.0,266.5 1730.8,238.5" stroke-opacity="0.25"/><polyline points="1730.8,238.5 1824.5,239.8" stroke-opacity="0.28"/><polyline points="1824.5,239.8 1917.0,259.1" stroke-opacity="0.3"/><polyline points="1917.0,259.1 2012.0,107.0" stroke-opacity="0.5"/><polyline points="1543.3,247.0 1636.0,261.1 1730.8,233.2" stroke-opacity="0.25"/><polyline points="1730.8,233.2 1824.5,223.7" stroke-opacity="0.28"/><polyline points="1824.5,223.7 1917.0,247.6" stroke-opacity="0.3"/><polyline points="1917.0,247.6 2012.0,84.2" stroke-opacity="0.5"/><polyline points="1543.3,244.5 1636.0,261.7 1730.8,234.2" stroke-opacity="0.25"/><polyline points="1730.8,234.2 1824.5,233.1" stroke-opacity="0.28"/><polyline points="1824.5,233.1 1917.0,253.8" stroke-opacity="0.3"/><polyline points="1917.0,253.8 2012.0,80.1" stroke-opacity="0.5"/><polyline points="1543.3,245.3 1636.0,260.1 1730.8,235.1" stroke-opacity="0.25"/><polyline points="1730.8,235.1 1824.5,240.4" stroke-opacity="0.28"/><polyline points="1824.5,240.4 1917.0,262.0" stroke-opacity="0.3"/><polyline points="1917.0,262.0 2012.0,92.9" stroke-opacity="0.5"/><polyline points="1543.3,248.3 1636.0,261.4 1730.8,231.4" stroke-opacity="0.25"/><polyline points="1730.8,231.4 1824.5,225.2" stroke-opacity="0.28"/><polyline points="1824.5,225.2 1917.0,253.8" stroke-opacity="0.3"/><polyline points="1917.0,253.8 2012.0,75.5" stroke-opacity="0.5"/><polyline points="1543.3,240.8 1636.0,262.9 1730.8,226.5" stroke-opacity="0.25"/><polyline points="1730.8,226.5 1824.5,223.2" stroke-opacity="0.28"/><polyline points="1824.5,223.2 1917.0,253.1" stroke-opacity="0.3"/><polyline points="1917.0,253.1 2012.0,87.8" stroke-opacity="0.5"/><polyline points="1543.3,257.2 1636.0,268.0 1730.8,236.4" stroke-opacity="0.25"/><polyline points="1730.8,236.4 1824.5,227.0" stroke-opacity="0.28"/><polyline points="1824.5,227.0 1917.0,260.8" stroke-opacity="0.3"/><polyline points="1917.0,260.8 2012.0,87.8" stroke-opacity="0.5"/><polyline points="1543.3,251.3 1636.0,270.8 1730.8,230.9" stroke-opacity="0.25"/><polyline points="1730.8,230.9 1824.5,227.1" stroke-opacity="0.28"/><polyline points="1824.5,227.1 1917.0,261.8" stroke-opacity="0.3"/><polyline points="1917.0,261.8 2012.0,99.8" stroke-opacity="0.5"/><polyline points="1543.3,250.5 1636.0,259.1 1730.8,225.9" stroke-opacity="0.25"/><polyline points="1730.8,225.9 1824.5,232.9" stroke-opacity="0.28"/><polyline points="1824.5,232.9 1917.0,252.3" stroke-opacity="0.3"/><polyline points="1917.0,252.3 2012.0,81.2" stroke-opacity="0.5"/><polyline points="1543.3,250.4 1636.0,258.6 1730.8,233.2" stroke-opacity="0.25"/><polyline points="1730.8,233.2 1824.5,236.6" stroke-opacity="0.28"/><polyline points="1824.5,236.6 1917.0,259.9" stroke-opacity="0.3"/><polyline points="1917.0,259.9 2012.0,111.7" stroke-opacity="0.5"/><polyline points="1543.3,248.0 1636.0,265.3 1730.8,226.4" stroke-opacity="0.25"/><polyline points="1730.8,226.4 1824.5,231.4" stroke-opacity="0.28"/><polyline points="1824.5,231.4 1917.0,252.5" stroke-opacity="0.3"/><polyline points="1917.0,252.5 2012.0,95.0" stroke-opacity="0.5"/><polyline points="1543.3,254.0 1636.0,260.2 1730.8,231.9" stroke-opacity="0.25"/><polyline points="1730.8,231.9 1824.5,231.3" stroke-opacity="0.28"/><polyline points="1824.5,231.3 1917.0,260.7" stroke-opacity="0.3"/><polyline points="1917.0,260.7 2012.0,101.9" stroke-opacity="0.5"/><polyline points="1543.3,242.3 1636.0,255.3 1730.8,232.6" stroke-opacity="0.25"/><polyline points="1730.8,232.6 1824.5,229.9" stroke-opacity="0.28"/><polyline points="1824.5,229.9 1917.0,252.3" stroke-opacity="0.3"/><polyline points="1917.0,252.3 2012.0,108.2" stroke-opacity="0.5"/><polyline points="1543.3,245.8 1636.0,266.6 1730.8,241.8" stroke-opacity="0.25"/><polyline points="1730.8,241.8 1824.5,230.9" stroke-opacity="0.28"/><polyline points="1824.5,230.9 1917.0,261.4" stroke-opacity="0.3"/><polyline points="1917.0,261.4 2012.0,92.5" stroke-opacity="0.5"/><polyline points="1543.3,250.3 1636.0,259.4 1730.8,219.6" stroke-opacity="0.25"/><polyline points="1730.8,219.6 1824.5,224.9" stroke-opacity="0.28"/><polyline points="1824.5,224.9 1917.0,255.5" stroke-opacity="0.3"/><polyline points="1917.0,255.5 2012.0,82.7" stroke-opacity="0.5"/><polyline points="1543.3,247.1 1636.0,262.8 1730.8,244.9" stroke-opacity="0.25"/><polyline points="1730.8,244.9 1824.5,230.1" stroke-opacity="0.28"/><polyline points="1824.5,230.1 1917.0,258.0" stroke-opacity="0.3"/><polyline points="1917.0,258.0 2012.0,93.2" stroke-opacity="0.5"/><polyline points="1543.3,251.2 1636.0,269.7 1730.8,238.0" stroke-opacity="0.25"/><polyline points="1730.8,238.0 1824.5,236.1" stroke-opacity="0.28"/><polyline points="1824.5,236.1 1917.0,260.7" stroke-opacity="0.3"/><polyline points="1917.0,260.7 2012.0,117.1" stroke-opacity="0.5"/><polyline points="1543.3,251.0 1636.0,263.4 1730.8,233.1" stroke-opacity="0.25"/><polyline points="1730.8,233.1 1824.5,223.1" stroke-opacity="0.28"/><polyline points="1824.5,223.1 1917.0,249.8" stroke-opacity="0.3"/><polyline points="1917.0,249.8 2012.0,68.9" stroke-opacity="0.5"/><polyline points="1543.3,258.5 1636.0,268.0 1730.8,241.0" stroke-opacity="0.25"/><polyline points="1730.8,241.0 1824.5,240.1" stroke-opacity="0.28"/><polyline points="1824.5,240.1 1917.0,259.7" stroke-opacity="0.3"/><polyline points="1917.0,259.7 2012.0,110.2" stroke-opacity="0.5"/><polyline points="1543.3,249.6 1636.0,258.3 1730.8,239.6" stroke-opacity="0.25"/><polyline points="1730.8,239.6 1824.5,234.7" stroke-opacity="0.28"/><polyline points="1824.5,234.7 1917.0,259.5" stroke-opacity="0.3"/><polyline points="1917.0,259.5 2012.0,99.6" stroke-opacity="0.5"/><polyline points="1543.3,249.2 1636.0,260.6 1730.8,235.0" stroke-opacity="0.25"/><polyline points="1730.8,235.0 1824.5,224.4" stroke-opacity="0.28"/><polyline points="1824.5,224.4 1917.0,255.6" stroke-opacity="0.3"/><polyline points="1917.0,255.6 2012.0,86.2" stroke-opacity="0.5"/><polyline points="1543.3,243.2 1636.0,259.7 1730.8,230.1" stroke-opacity="0.25"/><polyline points="1730.8,230.1 1824.5,229.5" stroke-opacity="0.28"/><polyline points="1824.5,229.5 1917.0,260.3" stroke-opacity="0.3"/><polyline points="1917.0,260.3 2012.0,99.2" stroke-opacity="0.5"/><polyline points="1543.3,251.8 1636.0,265.1 1730.8,239.3" stroke-opacity="0.25"/><polyline points="1730.8,239.3 1824.5,235.4" stroke-opacity="0.28"/><polyline points="1824.5,235.4 1917.0,264.9" stroke-opacity="0.3"/><polyline points="1917.0,264.9 2012.0,100.9" stroke-opacity="0.5"/><polyline points="1543.3,243.6 1636.0,259.3 1730.8,226.2" stroke-opacity="0.25"/><polyline points="1730.8,226.2 1824.5,231.4" stroke-opacity="0.28"/><polyline points="1824.5,231.4 1917.0,249.2" stroke-opacity="0.3"/><polyline points="1917.0,249.2 2012.0,95.3" stroke-opacity="0.5"/><polyline points="1543.3,247.2 1636.0,259.6 1730.8,235.1" stroke-opacity="0.25"/><polyline points="1730.8,235.1 1824.5,225.3" stroke-opacity="0.28"/><polyline points="1824.5,225.3 1917.0,247.7" stroke-opacity="0.3"/><polyline points="1917.0,247.7 2012.0,74.9" stroke-opacity="0.5"/><polyline points="1543.3,249.1 1636.0,260.3 1730.8,225.2" stroke-opacity="0.25"/><polyline points="1730.8,225.2 1824.5,229.0" stroke-opacity="0.28"/><polyline points="1824.5,229.0 1917.0,248.0" stroke-opacity="0.3"/><polyline points="1917.0,248.0 2012.0,84.6" stroke-opacity="0.5"/><polyline points="1543.3,247.7 1636.0,254.6 1730.8,231.2" stroke-opacity="0.25"/><polyline points="1730.8,231.2 1824.5,226.9" stroke-opacity="0.28"/><polyline points="1824.5,226.9 1917.0,264.3" stroke-opacity="0.3"/><polyline points="1917.0,264.3 2012.0,95.1" stroke-opacity="0.5"/><polyline points="1543.3,249.2 1636.0,264.2 1730.8,237.1" stroke-opacity="0.25"/><polyline points="1730.8,237.1 1824.5,225.7" stroke-opacity="0.28"/><polyline points="1824.5,225.7 1917.0,259.8" stroke-opacity="0.3"/><polyline points="1917.0,259.8 2012.0,82.8" stroke-opacity="0.5"/><polyline points="1543.3,245.5 1636.0,257.7 1730.8,233.0" stroke-opacity="0.25"/><polyline points="1730.8,233.0 1824.5,226.4" stroke-opacity="0.28"/><polyline points="1824.5,226.4 1917.0,256.6" stroke-opacity="0.3"/><polyline points="1917.0,256.6 2012.0,80.2" stroke-opacity="0.5"/><polyline points="1543.3,246.4 1636.0,257.6 1730.8,238.6" stroke-opacity="0.25"/><polyline points="1730.8,238.6 1824.5,229.8" stroke-opacity="0.28"/><polyline points="1824.5,229.8 1917.0,255.0" stroke-opacity="0.3"/><polyline points="1917.0,255.0 2012.0,95.1" stroke-opacity="0.5"/><polyline points="1543.3,243.8 1636.0,263.3 1730.8,228.4" stroke-opacity="0.25"/><polyline points="1730.8,228.4 1824.5,224.6" stroke-opacity="0.28"/><polyline points="1824.5,224.6 1917.0,251.7" stroke-opacity="0.3"/><polyline points="1917.0,251.7 2012.0,81.0" stroke-opacity="0.5"/><polyline points="1543.3,249.2 1636.0,266.1 1730.8,234.7" stroke-opacity="0.25"/><polyline points="1730.8,234.7 1824.5,234.5" stroke-opacity="0.28"/><polyline points="1824.5,234.5 1917.0,256.2" stroke-opacity="0.3"/><polyline points="1917.0,256.2 2012.0,110.6" stroke-opacity="0.5"/><polyline points="1543.3,250.6 1636.0,255.4 1730.8,224.1" stroke-opacity="0.25"/><polyline points="1730.8,224.1 1824.5,228.9" stroke-opacity="0.28"/><polyline points="1824.5,228.9 1917.0,254.7" stroke-opacity="0.3"/><polyline points="1917.0,254.7 2012.0,94.0" stroke-opacity="0.5"/><polyline points="1543.3,254.7 1636.0,262.1 1730.8,227.0" stroke-opacity="0.25"/><polyline points="1730.8,227.0 1824.5,229.2" stroke-opacity="0.28"/><polyline points="1824.5,229.2 1917.0,257.7" stroke-opacity="0.3"/><polyline points="1917.0,257.7 2012.0,103.4" stroke-opacity="0.5"/><polyline points="1543.3,246.4 1636.0,254.8 1730.8,230.3" stroke-opacity="0.25"/><polyline points="1730.8,230.3 1824.5,227.9" stroke-opacity="0.28"/><polyline points="1824.5,227.9 1917.0,250.1" stroke-opacity="0.3"/><polyline points="1917.0,250.1 2012.0,89.6" stroke-opacity="0.5"/><polyline points="1543.3,244.7 1636.0,257.4 1730.8,233.7" stroke-opacity="0.25"/><polyline points="1730.8,233.7 1824.5,229.6" stroke-opacity="0.28"/><polyline points="1824.5,229.6 1917.0,259.8" stroke-opacity="0.3"/><polyline points="1917.0,259.8 2012.0,94.9" stroke-opacity="0.5"/><polyline points="1543.3,246.4 1636.0,261.3 1730.8,238.0" stroke-opacity="0.25"/><polyline points="1730.8,238.0 1824.5,224.0" stroke-opacity="0.28"/><polyline points="1824.5,224.0 1917.0,256.7" stroke-opacity="0.3"/><polyline points="1917.0,256.7 2012.0,96.4" stroke-opacity="0.5"/><polyline points="1543.3,252.9 1636.0,263.5 1730.8,237.3" stroke-opacity="0.25"/><polyline points="1730.8,237.3 1824.5,232.9" stroke-opacity="0.28"/><polyline points="1824.5,232.9 1917.0,261.9" stroke-opacity="0.3"/><polyline points="1917.0,261.9 2012.0,101.8" stroke-opacity="0.5"/><polyline points="1543.3,246.9 1636.0,262.9 1730.8,241.7" stroke-opacity="0.25"/><polyline points="1730.8,241.7 1824.5,240.2" stroke-opacity="0.28"/><polyline points="1824.5,240.2 1917.0,259.7" stroke-opacity="0.3"/><polyline points="1917.0,259.7 2012.0,86.2" stroke-opacity="0.5"/><polyline points="1543.3,250.1 1636.0,262.3 1730.8,229.5" stroke-opacity="0.25"/><polyline points="1730.8,229.5 1824.5,232.6" stroke-opacity="0.28"/><polyline points="1824.5,232.6 1917.0,247.9" stroke-opacity="0.3"/><polyline points="1917.0,247.9 2012.0,88.0" stroke-opacity="0.5"/><polyline points="1543.3,252.4 1636.0,263.2 1730.8,238.3" stroke-opacity="0.25"/><polyline points="1730.8,238.3 1824.5,229.1" stroke-opacity="0.28"/><polyline points="1824.5,229.1 1917.0,254.0" stroke-opacity="0.3"/><polyline points="1917.0,254.0 2012.0,86.0" stroke-opacity="0.5"/><polyline points="1543.3,248.0 1636.0,259.2 1730.8,227.2" stroke-opacity="0.25"/><polyline points="1730.8,227.2 1824.5,228.8" stroke-opacity="0.28"/><polyline points="1824.5,228.8 1917.0,258.2" stroke-opacity="0.3"/><polyline points="1917.0,258.2 2012.0,101.3" stroke-opacity="0.5"/><polyline points="1543.3,252.6 1636.0,261.6 1730.8,234.7" stroke-opacity="0.25"/><polyline points="1730.8,234.7 1824.5,241.2" stroke-opacity="0.28"/><polyline points="1824.5,241.2 1917.0,258.7" stroke-opacity="0.3"/><polyline points="1917.0,258.7 2012.0,108.2" stroke-opacity="0.5"/><polyline points="1543.3,255.8 1636.0,268.8 1730.8,230.7" stroke-opacity="0.25"/><polyline points="1730.8,230.7 1824.5,242.2" stroke-opacity="0.28"/><polyline points="1824.5,242.2 1917.0,263.3" stroke-opacity="0.3"/><polyline points="1917.0,263.3 2012.0,107.6" stroke-opacity="0.5"/><polyline points="1543.3,244.0 1636.0,261.4 1730.8,226.2" stroke-opacity="0.25"/><polyline points="1730.8,226.2 1824.5,224.2" stroke-opacity="0.28"/><polyline points="1824.5,224.2 1917.0,252.3" stroke-opacity="0.3"/><polyline points="1917.0,252.3 2012.0,72.5" stroke-opacity="0.5"/><polyline points="1543.3,239.9 1636.0,256.7 1730.8,226.4" stroke-opacity="0.25"/><polyline points="1730.8,226.4 1824.5,222.9" stroke-opacity="0.28"/><polyline points="1824.5,222.9 1917.0,254.0" stroke-opacity="0.3"/><polyline points="1917.0,254.0 2012.0,86.1" stroke-opacity="0.5"/><polyline points="1543.3,250.0 1636.0,259.1 1730.8,237.1" stroke-opacity="0.25"/><polyline points="1730.8,237.1 1824.5,241.1" stroke-opacity="0.28"/><polyline points="1824.5,241.1 1917.0,257.5" stroke-opacity="0.3"/><polyline points="1917.0,257.5 2012.0,95.4" stroke-opacity="0.5"/><polyline points="1543.3,261.7 1636.0,263.4 1730.8,238.7" stroke-opacity="0.25"/><polyline points="1730.8,238.7 1824.5,224.4" stroke-opacity="0.28"/><polyline points="1824.5,224.4 1917.0,257.6" stroke-opacity="0.3"/><polyline points="1917.0,257.6 2012.0,85.3" stroke-opacity="0.5"/><polyline points="1543.3,252.1 1636.0,262.5 1730.8,238.7" stroke-opacity="0.25"/><polyline points="1730.8,238.7 1824.5,238.8" stroke-opacity="0.28"/><polyline points="1824.5,238.8 1917.0,262.3" stroke-opacity="0.3"/><polyline points="1917.0,262.3 2012.0,107.3" stroke-opacity="0.5"/><polyline points="1543.3,248.8 1636.0,257.5 1730.8,233.4" stroke-opacity="0.25"/><polyline points="1730.8,233.4 1824.5,229.5" stroke-opacity="0.28"/><polyline points="1824.5,229.5 1917.0,258.7" stroke-opacity="0.3"/><polyline points="1917.0,258.7 2012.0,90.0" stroke-opacity="0.5"/><polyline points="1543.3,247.4 1636.0,261.1 1730.8,230.0" stroke-opacity="0.25"/><polyline points="1730.8,230.0 1824.5,221.2" stroke-opacity="0.28"/><polyline points="1824.5,221.2 1917.0,253.1" stroke-opacity="0.3"/><polyline points="1917.0,253.1 2012.0,82.2" stroke-opacity="0.5"/><polyline points="1543.3,248.3 1636.0,263.8 1730.8,237.9" stroke-opacity="0.25"/><polyline points="1730.8,237.9 1824.5,230.6" stroke-opacity="0.28"/><polyline points="1824.5,230.6 1917.0,260.0" stroke-opacity="0.3"/><polyline points="1917.0,260.0 2012.0,104.5" stroke-opacity="0.5"/><polyline points="1543.3,242.3 1636.0,257.0 1730.8,222.4" stroke-opacity="0.25"/><polyline points="1730.8,222.4 1824.5,220.9" stroke-opacity="0.28"/><polyline points="1824.5,220.9 1917.0,254.6" stroke-opacity="0.3"/><polyline points="1917.0,254.6 2012.0,58.7" stroke-opacity="0.5"/><polyline points="1543.3,252.4 1636.0,266.7 1730.8,235.8" stroke-opacity="0.25"/><polyline points="1730.8,235.8 1824.5,239.9" stroke-opacity="0.28"/><polyline points="1824.5,239.9 1917.0,257.2" stroke-opacity="0.3"/><polyline points="1917.0,257.2 2012.0,89.8" stroke-opacity="0.5"/><polyline points="1543.3,245.5 1636.0,259.2 1730.8,232.1" stroke-opacity="0.25"/><polyline points="1730.8,232.1 1824.5,221.3" stroke-opacity="0.28"/><polyline points="1824.5,221.3 1917.0,253.5" stroke-opacity="0.3"/><polyline points="1917.0,253.5 2012.0,84.8" stroke-opacity="0.5"/><polyline points="1543.3,244.3 1636.0,258.7 1730.8,226.3" stroke-opacity="0.25"/><polyline points="1730.8,226.3 1824.5,234.1" stroke-opacity="0.28"/><polyline points="1824.5,234.1 1917.0,251.7" stroke-opacity="0.3"/><polyline points="1917.0,251.7 2012.0,91.1" stroke-opacity="0.5"/><polyline points="1543.3,249.8 1636.0,267.3 1730.8,247.7" stroke-opacity="0.25"/><polyline points="1730.8,247.7 1824.5,240.7" stroke-opacity="0.28"/><polyline points="1824.5,240.7 1917.0,264.1" stroke-opacity="0.3"/><polyline points="1917.0,264.1 2012.0,97.6" stroke-opacity="0.5"/><polyline points="1543.3,256.6 1636.0,264.1 1730.8,227.3" stroke-opacity="0.25"/><polyline points="1730.8,227.3 1824.5,228.0" stroke-opacity="0.28"/><polyline points="1824.5,228.0 1917.0,251.8" stroke-opacity="0.3"/><polyline points="1917.0,251.8 2012.0,106.0" stroke-opacity="0.5"/><polyline points="1543.3,252.2 1636.0,265.4 1730.8,239.4" stroke-opacity="0.25"/><polyline points="1730.8,239.4 1824.5,242.8" stroke-opacity="0.28"/><polyline points="1824.5,242.8 1917.0,262.5" stroke-opacity="0.3"/><polyline points="1917.0,262.5 2012.0,105.6" stroke-opacity="0.5"/><polyline points="1543.3,251.0 1636.0,267.1 1730.8,247.3" stroke-opacity="0.25"/><polyline points="1730.8,247.3 1824.5,236.8" stroke-opacity="0.28"/><polyline points="1824.5,236.8 1917.0,259.0" stroke-opacity="0.3"/><polyline points="1917.0,259.0 2012.0,92.9" stroke-opacity="0.5"/><polyline points="1543.3,246.5 1636.0,261.3 1730.8,230.6" stroke-opacity="0.25"/><polyline points="1730.8,230.6 1824.5,234.0" stroke-opacity="0.28"/><polyline points="1824.5,234.0 1917.0,259.6" stroke-opacity="0.3"/><polyline points="1917.0,259.6 2012.0,106.1" stroke-opacity="0.5"/><polyline points="1543.3,245.6 1636.0,264.8 1730.8,232.5" stroke-opacity="0.25"/><polyline points="1730.8,232.5 1824.5,234.9" stroke-opacity="0.28"/><polyline points="1824.5,234.9 1917.0,254.5" stroke-opacity="0.3"/><polyline points="1917.0,254.5 2012.0,97.7" stroke-opacity="0.5"/><polyline points="1543.3,252.6 1636.0,265.8 1730.8,242.3" stroke-opacity="0.25"/><polyline points="1730.8,242.3 1824.5,231.4" stroke-opacity="0.28"/><polyline points="1824.5,231.4 1917.0,252.4" stroke-opacity="0.3"/><polyline points="1917.0,252.4 2012.0,109.7" stroke-opacity="0.5"/><polyline points="1543.3,246.0 1636.0,256.6 1730.8,234.0" stroke-opacity="0.25"/><polyline points="1730.8,234.0 1824.5,233.6" stroke-opacity="0.28"/><polyline points="1824.5,233.6 1917.0,258.0" stroke-opacity="0.3"/><polyline points="1917.0,258.0 2012.0,91.6" stroke-opacity="0.5"/><polyline points="1543.3,243.3 1636.0,255.6 1730.8,220.2" stroke-opacity="0.25"/><polyline points="1730.8,220.2 1824.5,218.2" stroke-opacity="0.28"/><polyline points="1824.5,218.2 1917.0,255.6" stroke-opacity="0.3"/><polyline points="1917.0,255.6 2012.0,94.3" stroke-opacity="0.5"/><polyline points="1543.3,246.6 1636.0,262.3 1730.8,239.7" stroke-opacity="0.25"/><polyline points="1730.8,239.7 1824.5,229.4" stroke-opacity="0.28"/><polyline points="1824.5,229.4 1917.0,262.9" stroke-opacity="0.3"/><polyline points="1917.0,262.9 2012.0,82.8" stroke-opacity="0.5"/><polyline points="1543.3,259.1 1636.0,268.4 1730.8,243.9" stroke-opacity="0.25"/><polyline points="1730.8,243.9 1824.5,233.1" stroke-opacity="0.28"/><polyline points="1824.5,233.1 1917.0,265.3" stroke-opacity="0.3"/><polyline points="1917.0,265.3 2012.0,98.6" stroke-opacity="0.5"/><polyline points="1543.3,250.5 1636.0,261.2 1730.8,242.9" stroke-opacity="0.25"/><polyline points="1730.8,242.9 1824.5,232.1" stroke-opacity="0.28"/><polyline points="1824.5,232.1 1917.0,252.7" stroke-opacity="0.3"/><polyline points="1917.0,252.7 2012.0,106.7" stroke-opacity="0.5"/><polyline points="1543.3,247.5 1636.0,265.3 1730.8,227.2" stroke-opacity="0.25"/><polyline points="1730.8,227.2 1824.5,232.8" stroke-opacity="0.28"/><polyline points="1824.5,232.8 1917.0,255.1" stroke-opacity="0.3"/><polyline points="1917.0,255.1 2012.0,84.5" stroke-opacity="0.5"/><polyline points="1543.3,251.1 1636.0,262.4 1730.8,232.0" stroke-opacity="0.25"/><polyline points="1730.8,232.0 1824.5,230.1" stroke-opacity="0.28"/><polyline points="1824.5,230.1 1917.0,259.0" stroke-opacity="0.3"/><polyline points="1917.0,259.0 2012.0,98.4" stroke-opacity="0.5"/><polyline points="1543.3,243.9 1636.0,264.1 1730.8,234.5" stroke-opacity="0.25"/><polyline points="1730.8,234.5 1824.5,230.2" stroke-opacity="0.28"/><polyline points="1824.5,230.2 1917.0,257.0" stroke-opacity="0.3"/><polyline points="1917.0,257.0 2012.0,74.7" stroke-opacity="0.5"/><polyline points="1543.3,249.0 1636.0,263.4 1730.8,237.9" stroke-opacity="0.25"/><polyline points="1730.8,237.9 1824.5,233.6" stroke-opacity="0.28"/><polyline points="1824.5,233.6 1917.0,261.9" stroke-opacity="0.3"/><polyline points="1917.0,261.9 2012.0,95.2" stroke-opacity="0.5"/><polyline points="1543.3,243.7 1636.0,259.1 1730.8,239.0" stroke-opacity="0.25"/><polyline points="1730.8,239.0 1824.5,228.7" stroke-opacity="0.28"/><polyline points="1824.5,228.7 1917.0,255.3" stroke-opacity="0.3"/><polyline points="1917.0,255.3 2012.0,88.9" stroke-opacity="0.5"/><polyline points="1543.3,254.1 1636.0,269.7 1730.8,244.7" stroke-opacity="0.25"/><polyline points="1730.8,244.7 1824.5,237.6" stroke-opacity="0.28"/><polyline points="1824.5,237.6 1917.0,258.0" stroke-opacity="0.3"/><polyline points="1917.0,258.0 2012.0,121.7" stroke-opacity="0.5"/><polyline points="1543.3,256.9 1636.0,271.3 1730.8,242.4" stroke-opacity="0.25"/><polyline points="1730.8,242.4 1824.5,228.3" stroke-opacity="0.28"/><polyline points="1824.5,228.3 1917.0,262.5" stroke-opacity="0.3"/><polyline points="1917.0,262.5 2012.0,103.3" stroke-opacity="0.5"/><polyline points="1543.3,248.5 1636.0,258.2 1730.8,233.6" stroke-opacity="0.25"/><polyline points="1730.8,233.6 1824.5,228.7" stroke-opacity="0.28"/><polyline points="1824.5,228.7 1917.0,255.2" stroke-opacity="0.3"/><polyline points="1917.0,255.2 2012.0,87.1" stroke-opacity="0.5"/><polyline points="1543.3,251.5 1636.0,260.3 1730.8,233.0" stroke-opacity="0.25"/><polyline points="1730.8,233.0 1824.5,230.5" stroke-opacity="0.28"/><polyline points="1824.5,230.5 1917.0,256.7" stroke-opacity="0.3"/><polyline points="1917.0,256.7 2012.0,84.9" stroke-opacity="0.5"/><polyline points="1543.3,246.5 1636.0,258.8 1730.8,234.0" stroke-opacity="0.25"/><polyline points="1730.8,234.0 1824.5,241.6" stroke-opacity="0.28"/><polyline points="1824.5,241.6 1917.0,261.4" stroke-opacity="0.3"/><polyline points="1917.0,261.4 2012.0,88.6" stroke-opacity="0.5"/><polyline points="1543.3,248.3 1636.0,260.7 1730.8,223.8" stroke-opacity="0.25"/><polyline points="1730.8,223.8 1824.5,221.0" stroke-opacity="0.28"/><polyline points="1824.5,221.0 1917.0,254.8" stroke-opacity="0.3"/><polyline points="1917.0,254.8 2012.0,74.4" stroke-opacity="0.5"/><polyline points="1543.3,248.8 1636.0,260.0 1730.8,233.1" stroke-opacity="0.25"/><polyline points="1730.8,233.1 1824.5,229.9" stroke-opacity="0.28"/><polyline points="1824.5,229.9 1917.0,260.6" stroke-opacity="0.3"/><polyline points="1917.0,260.6 2012.0,88.1" stroke-opacity="0.5"/><polyline points="1543.3,244.9 1636.0,258.2 1730.8,229.7" stroke-opacity="0.25"/><polyline points="1730.8,229.7 1824.5,228.3" stroke-opacity="0.28"/><polyline points="1824.5,228.3 1917.0,256.2" stroke-opacity="0.3"/><polyline points="1917.0,256.2 2012.0,81.6" stroke-opacity="0.5"/><polyline points="1543.3,253.2 1636.0,261.0 1730.8,230.3" stroke-opacity="0.25"/><polyline points="1730.8,230.3 1824.5,231.1" stroke-opacity="0.28"/><polyline points="1824.5,231.1 1917.0,258.5" stroke-opacity="0.3"/><polyline points="1917.0,258.5 2012.0,96.5" stroke-opacity="0.5"/><polyline points="1543.3,247.5 1636.0,260.4 1730.8,230.8" stroke-opacity="0.25"/><polyline points="1730.8,230.8 1824.5,238.5" stroke-opacity="0.28"/><polyline points="1824.5,238.5 1917.0,257.4" stroke-opacity="0.3"/><polyline points="1917.0,257.4 2012.0,93.8" stroke-opacity="0.5"/><polyline points="1543.3,245.6 1636.0,256.7 1730.8,235.6" stroke-opacity="0.25"/><polyline points="1730.8,235.6 1824.5,232.1" stroke-opacity="0.28"/><polyline points="1824.5,232.1 1917.0,259.0" stroke-opacity="0.3"/><polyline points="1917.0,259.0 2012.0,83.2" stroke-opacity="0.5"/><polyline points="1543.3,253.7 1636.0,267.1 1730.8,239.3" stroke-opacity="0.25"/><polyline points="1730.8,239.3 1824.5,235.0" stroke-opacity="0.28"/><polyline points="1824.5,235.0 1917.0,256.5" stroke-opacity="0.3"/><polyline points="1917.0,256.5 2012.0,102.0" stroke-opacity="0.5"/><polyline points="1543.3,258.5 1636.0,264.7 1730.8,242.0" stroke-opacity="0.25"/><polyline points="1730.8,242.0 1824.5,238.2" stroke-opacity="0.28"/><polyline points="1824.5,238.2 1917.0,263.8" stroke-opacity="0.3"/><polyline points="1917.0,263.8 2012.0,94.7" stroke-opacity="0.5"/><polyline points="1543.3,253.2 1636.0,260.9 1730.8,236.9" stroke-opacity="0.25"/><polyline points="1730.8,236.9 1824.5,228.1" stroke-opacity="0.28"/><polyline points="1824.5,228.1 1917.0,258.2" stroke-opacity="0.3"/><polyline points="1917.0,258.2 2012.0,97.1" stroke-opacity="0.5"/><polyline points="1543.3,249.2 1636.0,266.2 1730.8,239.0" stroke-opacity="0.25"/><polyline points="1730.8,239.0 1824.5,242.1" stroke-opacity="0.28"/><polyline points="1824.5,242.1 1917.0,261.2" stroke-opacity="0.3"/><polyline points="1917.0,261.2 2012.0,100.6" stroke-opacity="0.5"/><polyline points="1543.3,250.7 1636.0,259.5 1730.8,228.2" stroke-opacity="0.25"/><polyline points="1730.8,228.2 1824.5,224.7" stroke-opacity="0.28"/><polyline points="1824.5,224.7 1917.0,257.3" stroke-opacity="0.3"/><polyline points="1917.0,257.3 2012.0,101.4" stroke-opacity="0.5"/><polyline points="1543.3,251.7 1636.0,258.9 1730.8,230.5" stroke-opacity="0.25"/><polyline points="1730.8,230.5 1824.5,229.0" stroke-opacity="0.28"/><polyline points="1824.5,229.0 1917.0,258.3" stroke-opacity="0.3"/><polyline points="1917.0,258.3 2012.0,81.9" stroke-opacity="0.5"/><polyline points="1543.3,246.1 1636.0,264.7 1730.8,236.0" stroke-opacity="0.25"/><polyline points="1730.8,236.0 1824.5,230.0" stroke-opacity="0.28"/><polyline points="1824.5,230.0 1917.0,259.4" stroke-opacity="0.3"/><polyline points="1917.0,259.4 2012.0,99.6" stroke-opacity="0.5"/><polyline points="1543.3,242.8 1636.0,263.3 1730.8,225.4" stroke-opacity="0.25"/><polyline points="1730.8,225.4 1824.5,225.7" stroke-opacity="0.28"/><polyline points="1824.5,225.7 1917.0,254.1" stroke-opacity="0.3"/><polyline points="1917.0,254.1 2012.0,78.5" stroke-opacity="0.5"/><polyline points="1543.3,251.1 1636.0,263.2 1730.8,232.3" stroke-opacity="0.25"/><polyline points="1730.8,232.3 1824.5,229.8" stroke-opacity="0.28"/><polyline points="1824.5,229.8 1917.0,251.2" stroke-opacity="0.3"/><polyline points="1917.0,251.2 2012.0,91.9" stroke-opacity="0.5"/><polyline points="1543.3,254.2 1636.0,262.2 1730.8,241.5" stroke-opacity="0.25"/><polyline points="1730.8,241.5 1824.5,235.6" stroke-opacity="0.28"/><polyline points="1824.5,235.6 1917.0,259.7" stroke-opacity="0.3"/><polyline points="1917.0,259.7 2012.0,93.7" stroke-opacity="0.5"/><polyline points="1543.3,247.0 1636.0,258.3 1730.8,224.0" stroke-opacity="0.25"/><polyline points="1730.8,224.0 1824.5,220.1" stroke-opacity="0.28"/><polyline points="1824.5,220.1 1917.0,260.3" stroke-opacity="0.3"/><polyline points="1917.0,260.3 2012.0,81.5" stroke-opacity="0.5"/><polyline points="1543.3,252.2 1636.0,266.4 1730.8,241.0" stroke-opacity="0.25"/><polyline points="1730.8,241.0 1824.5,239.2" stroke-opacity="0.28"/><polyline points="1824.5,239.2 1917.0,264.2" stroke-opacity="0.3"/><polyline points="1917.0,264.2 2012.0,121.0" stroke-opacity="0.5"/><polyline points="1543.3,251.2 1636.0,259.8 1730.8,229.9" stroke-opacity="0.25"/><polyline points="1730.8,229.9 1824.5,228.1" stroke-opacity="0.28"/><polyline points="1824.5,228.1 1917.0,252.0" stroke-opacity="0.3"/><polyline points="1917.0,252.0 2012.0,53.9" stroke-opacity="0.5"/></g><polyline points="1543.3,224.3 1636,165.3 1730.8,79.5 1824.5,187.2 1917,270 2012,242.5" fill="none" stroke="#c21f2c" stroke-width="1.9" stroke-linejoin="round"/><line x1="1543.3" y1="8.8" x2="1543.3" y2="298" stroke="#111" stroke-width="2"/><line x1="1543.3" y1="294.5" x2="2012" y2="294.5" stroke="#333" stroke-width="2.3"/><line x1="1539.3" y1="294.5" x2="1543.3" y2="294.5" stroke="#111" stroke-width="1.5"/><line x1="1539.3" y1="223.07" x2="1543.3" y2="223.07" stroke="#111" stroke-width="1.5"/><line x1="1539.3" y1="151.65" x2="1543.3" y2="151.65" stroke="#111" stroke-width="1.5"/><line x1="1539.3" y1="80.22" x2="1543.3" y2="80.22" stroke="#111" stroke-width="1.5"/><line x1="1539.3" y1="8.8" x2="1543.3" y2="8.8" stroke="#111" stroke-width="1.5"/><text transform="translate(1530.5,298.72) scale(1.16,1)" text-anchor="end" font-family="DejaVu Sans" font-size="16.8" fill="#1a1a1a" stroke="#1a1a1a" stroke-width="0.12">0%</text><text transform="translate(1534,230.82) scale(1.16,1)" text-anchor="end" font-family="DejaVu Sans" font-size="16.8" fill="#1a1a1a" stroke="#1a1a1a" stroke-width="0.12">10%</text><text transform="translate(1533.6,157.12) scale(1.16,1)" text-anchor="end" font-family="DejaVu Sans" font-size="16.8" fill="#1a1a1a" stroke="#1a1a1a" stroke-width="0.12">20%</text><text transform="translate(1532,84.52) scale(1.16,1)" text-anchor="end" font-family="DejaVu Sans" font-size="16.8" fill="#1a1a1a" stroke="#1a1a1a" stroke-width="0.12">30%</text><text transform="translate(1532.2,16.12) scale(1.16,1)" text-anchor="end" font-family="DejaVu Sans" font-size="16.8" fill="#1a1a1a" stroke="#1a1a1a" stroke-width="0.12">40%</text><line x1="1638" y1="294.5" x2="1638" y2="298.5" stroke="#111" stroke-width="1.5"/><line x1="1732.8" y1="294.5" x2="1732.8" y2="298.5" stroke="#111" stroke-width="1.5"/><line x1="1826.5" y1="294.5" x2="1826.5" y2="298.5" stroke="#111" stroke-width="1.5"/><line x1="1919" y1="294.5" x2="1919" y2="298.5" stroke="#111" stroke-width="1.5"/><line x1="2014" y1="294.5" x2="2014" y2="298.5" stroke="#111" stroke-width="1.5"/><text x="1567.6" y="40.6" font-size="45.5" fill="#000">C3</text><text transform="translate(1472,264.1) rotate(-89.65) scale(0.844,1)" font-size="27.5" fill="#111">Percentage of subtrees</text><line x1="1510.6" y1="471" x2="1510.6" y2="504.5" stroke="#1a1a1a" stroke-width="1.5"/><text transform="translate(1512.2,462.2) rotate(-90) scale(0.8,1)" font-size="29" font-style="italic" fill="#111">Ceratopteris</text><line x1="1590.8" y1="471" x2="1590.8" y2="504.5" stroke="#1a1a1a" stroke-width="1.5"/><text transform="translate(1598.2,459.8) rotate(-90) scale(0.8,1)" font-size="29" font-style="italic" fill="#111">Lonchitis</text><line x1="1678.4" y1="471" x2="1678.4" y2="532.9" stroke="#1a1a1a" stroke-width="1.5"/><text transform="translate(1687.9,462.6) rotate(-90) scale(0.8,1)" font-size="29" font-style="italic" fill="#111">Culcita</text><line x1="1786" y1="471" x2="1786" y2="567.6" stroke="#1a1a1a" stroke-width="1.5"/><text transform="translate(1794.8,460.6) rotate(-90) scale(0.8,1)" font-size="29" font-style="italic" fill="#111">Azolla</text><line x1="1883.6" y1="471" x2="1883.6" y2="602" stroke="#1a1a1a" stroke-width="1.5"/><text transform="translate(1888.6,460.8) rotate(-90) scale(0.8,1)" font-size="29" font-style="italic" fill="#111">Anemia</text><line x1="1978.2" y1="471" x2="1978.2" y2="637" stroke="#1a1a1a" stroke-width="1.5"/><text transform="translate(1988.2,461.4) rotate(-90) scale(0.8,1)" font-size="29" font-style="italic" fill="#111">Dipteris</text><line x1="2073.4" y1="471" x2="2073.4" y2="673.2" stroke="#1a1a1a" stroke-width="1.5"/><text transform="translate(2079,461.4) rotate(-90) scale(0.8,1)" font-size="29" font-style="italic" fill="#111">Hymenophyllum</text><line x1="1510.6" y1="504.5" x2="1590.8" y2="504.5" stroke="#1a1a1a" stroke-width="1.5"/><line x1="1553" y1="504.5" x2="1553" y2="532.9" stroke="#1a1a1a" stroke-width="1.5"/><line x1="1553" y1="532.9" x2="1678.4" y2="532.9" stroke="#1a1a1a" stroke-width="1.5"/><line x1="1625.2" y1="532.9" x2="1625.2" y2="567.6" stroke="#1a1a1a" stroke-width="1.5"/><line x1="1625.2" y1="567.6" x2="1786" y2="567.6" stroke="#1a1a1a" stroke-width="1.5"/><line x1="1718.4" y1="567.6" x2="1718.4" y2="602" stroke="#1a1a1a" stroke-width="1.5"/><line x1="1718.4" y1="602" x2="1883.6" y2="602" stroke="#1a1a1a" stroke-width="1.5"/><line x1="1805.7" y1="602" x2="1805.7" y2="637" stroke="#1a1a1a" stroke-width="1.5"/><line x1="1805.7" y1="637" x2="1978.2" y2="637" stroke="#1a1a1a" stroke-width="1.5"/><line x1="1906.5" y1="637" x2="1906.5" y2="673.2" stroke="#1a1a1a" stroke-width="1.5"/><line x1="1906.5" y1="673.2" x2="2073.4" y2="673.2" stroke="#1a1a1a" stroke-width="1.5"/><line x1="1997.3" y1="673.2" x2="1997.3" y2="708.2" stroke="#1a1a1a" stroke-width="1.5"/><ellipse cx="1717.6" cy="585.3" rx="13.8" ry="7.2" fill="#ee2b30" stroke="#1a1a1a" stroke-width="1.4"/><text x="1675.5" y="625.9" font-size="24" font-weight="bold" letter-spacing="1.25" fill="#000">CYATγ</text></svg></body></html>
